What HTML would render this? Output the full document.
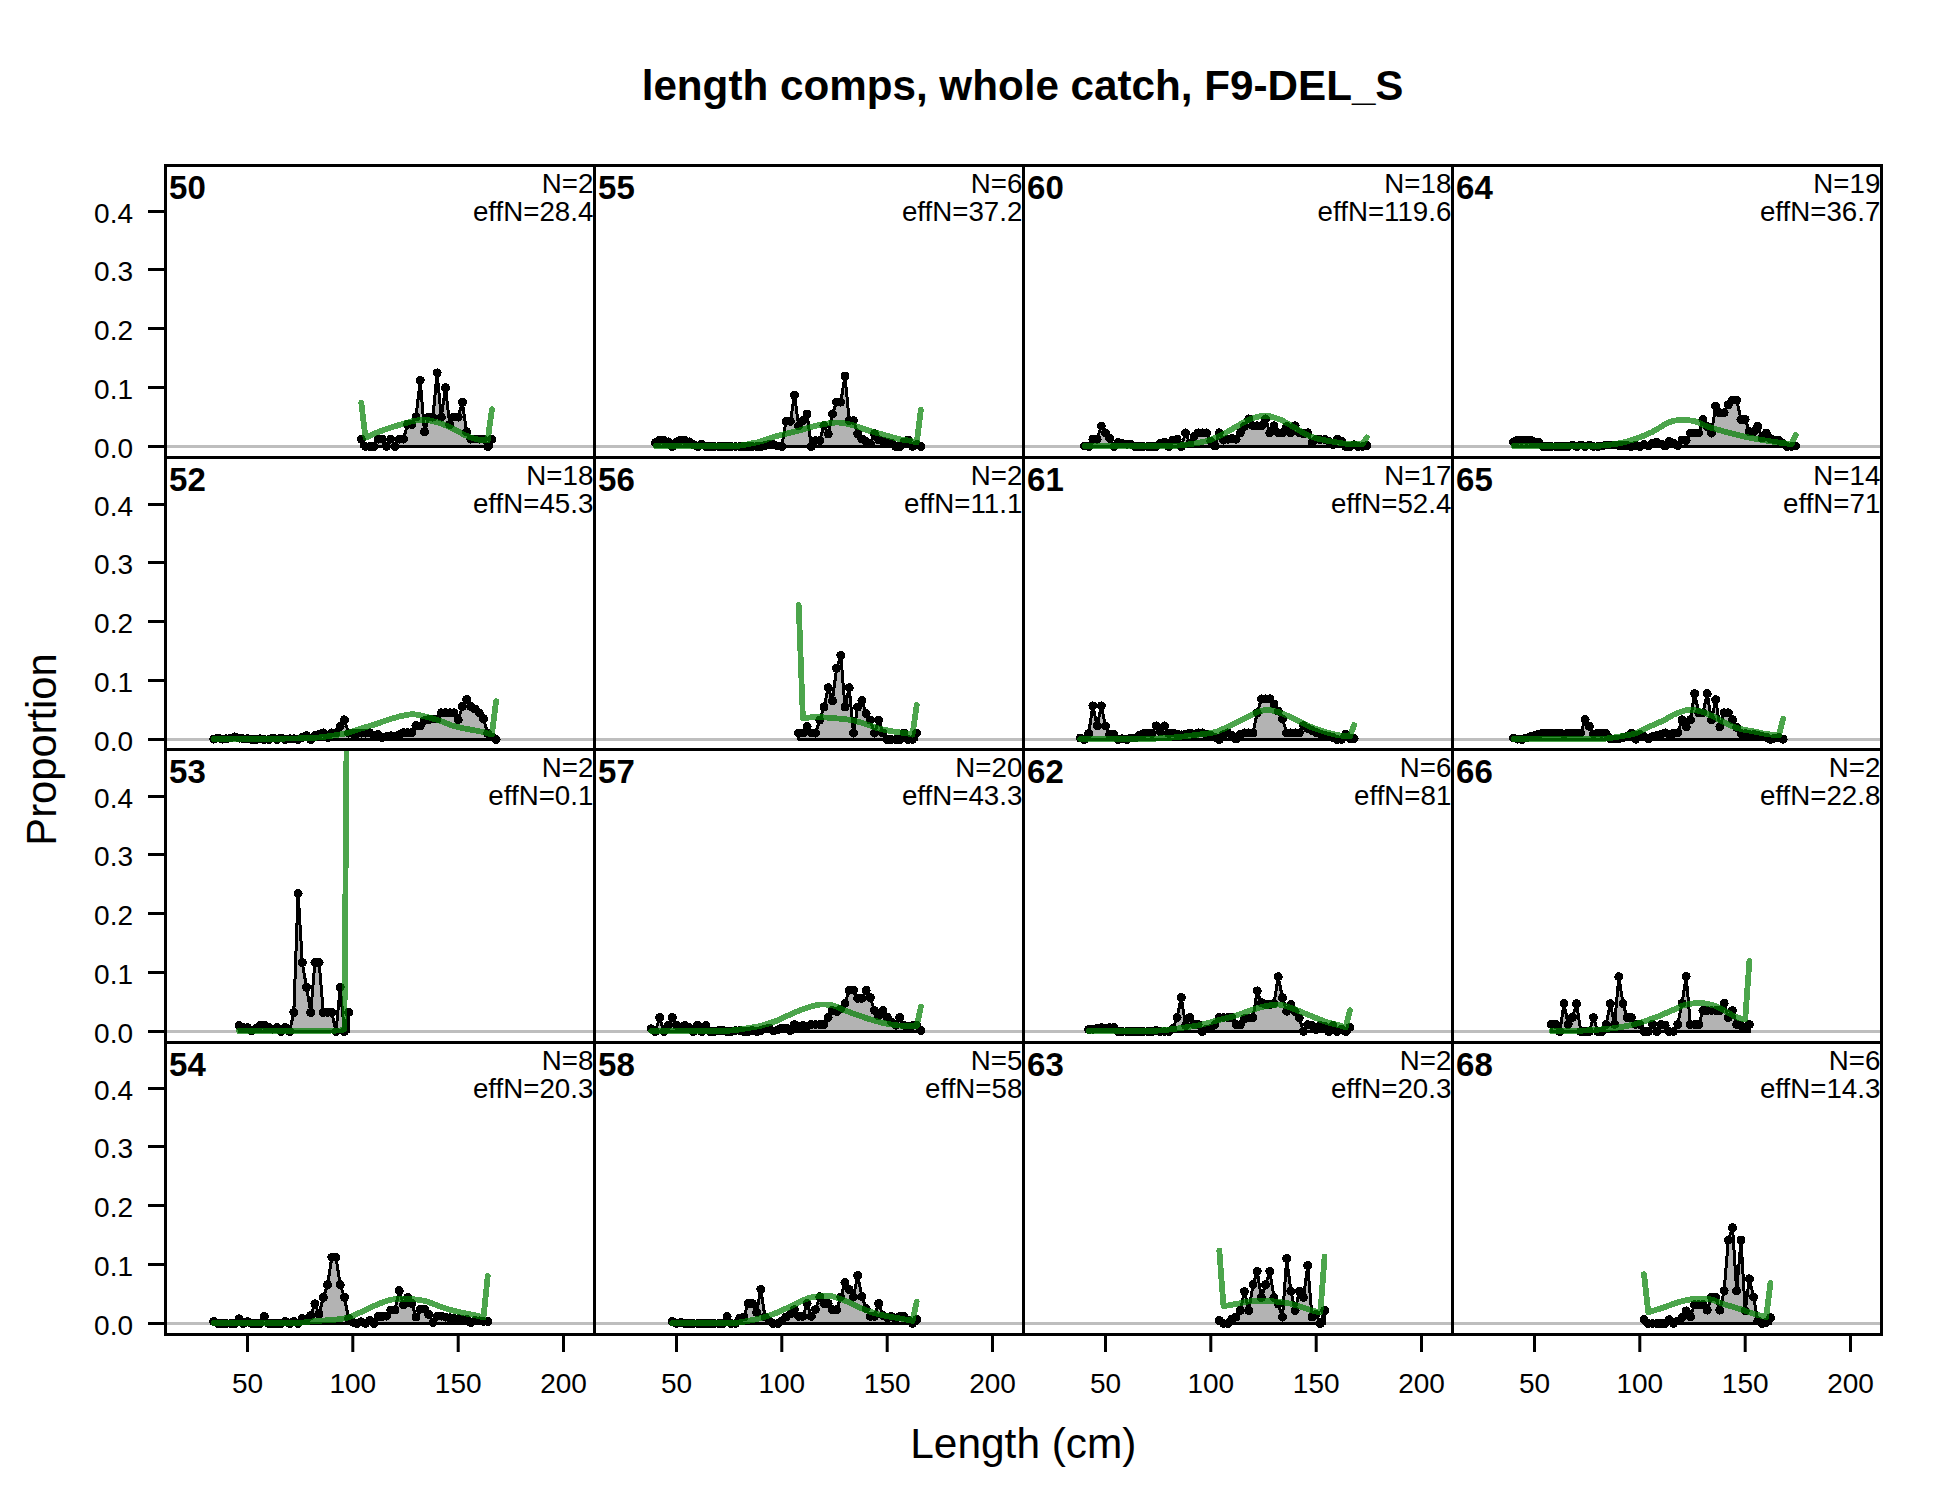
<!DOCTYPE html>
<html><head><meta charset="utf-8"><title>length comps, whole catch, F9-DEL_S</title>
<style>
html,body{margin:0;padding:0;background:#fff;}
svg{display:block;font-family:"Liberation Sans",sans-serif;}
.tk{font-size:28px;fill:#000;}
.pl{font-size:33px;font-weight:bold;fill:#000;}
.nl{font-size:27.7px;fill:#000;}
.big{font-size:41.7px;fill:#000;}
</style></head><body>
<svg width="1950" height="1500" viewBox="0 0 1950 1500">
<rect width="1950" height="1500" fill="#fff"/>
<text class="big" x="1022.6" y="99.7" text-anchor="middle" font-weight="bold" style="font-size:42.2px">length comps, whole catch, F9-DEL_S</text>
<text class="big" x="1023.4" y="1457.7" text-anchor="middle" style="font-size:42.4px">Length (cm)</text>
<text class="big" transform="translate(56,749.5) rotate(-90)" text-anchor="middle">Proportion</text>
<svg x="165.5" y="165.5" width="429.0" height="292.0" viewBox="165.5 165.5 429.0 292.0">
<line x1="165.5" y1="446.5" x2="594.5" y2="446.5" stroke="#bebebe" stroke-width="3.0"/>
<polygon shape-rendering="crispEdges" points="361.3,446.5 361.3,439.1 365.5,446.5 369.7,446.5 373.9,446.5 378.1,439.1 382.3,439.1 386.5,446.5 390.8,439.1 395.0,446.5 399.2,439.1 403.4,439.1 407.6,424.4 411.8,424.4 416.0,417.1 420.2,380.3 424.5,431.8 428.7,417.1 432.9,417.1 437.1,372.9 441.3,417.1 445.5,387.6 449.7,424.4 454.0,417.1 458.2,417.1 462.4,402.3 466.6,431.8 470.8,439.1 475.0,439.1 479.2,439.1 483.5,439.1 487.7,446.5 491.9,439.1 491.9,446.5" fill="#b3b3b3" stroke="#000" stroke-width="3.0" stroke-linejoin="round"/>
<g fill="#000" shape-rendering="crispEdges"><circle cx="361.3" cy="439.1" r="4.5"/><circle cx="365.5" cy="446.5" r="4.5"/><circle cx="369.7" cy="446.5" r="4.5"/><circle cx="373.9" cy="446.5" r="4.5"/><circle cx="378.1" cy="439.1" r="4.5"/><circle cx="382.3" cy="439.1" r="4.5"/><circle cx="386.5" cy="446.5" r="4.5"/><circle cx="390.8" cy="439.1" r="4.5"/><circle cx="395.0" cy="446.5" r="4.5"/><circle cx="399.2" cy="439.1" r="4.5"/><circle cx="403.4" cy="439.1" r="4.5"/><circle cx="407.6" cy="424.4" r="4.5"/><circle cx="411.8" cy="424.4" r="4.5"/><circle cx="416.0" cy="417.1" r="4.5"/><circle cx="420.2" cy="380.3" r="4.5"/><circle cx="424.5" cy="431.8" r="4.5"/><circle cx="428.7" cy="417.1" r="4.5"/><circle cx="432.9" cy="417.1" r="4.5"/><circle cx="437.1" cy="372.9" r="4.5"/><circle cx="441.3" cy="417.1" r="4.5"/><circle cx="445.5" cy="387.6" r="4.5"/><circle cx="449.7" cy="424.4" r="4.5"/><circle cx="454.0" cy="417.1" r="4.5"/><circle cx="458.2" cy="417.1" r="4.5"/><circle cx="462.4" cy="402.3" r="4.5"/><circle cx="466.6" cy="431.8" r="4.5"/><circle cx="470.8" cy="439.1" r="4.5"/><circle cx="475.0" cy="439.1" r="4.5"/><circle cx="479.2" cy="439.1" r="4.5"/><circle cx="483.5" cy="439.1" r="4.5"/><circle cx="487.7" cy="446.5" r="4.5"/><circle cx="491.9" cy="439.1" r="4.5"/></g>
<polyline shape-rendering="crispEdges" points="361.3,402.8 365.5,437.8 369.7,435.8 373.9,433.9 378.1,432.1 382.3,430.5 386.5,429.0 390.8,427.6 395.0,426.3 399.2,425.0 403.4,423.8 407.6,422.5 411.8,421.3 416.0,420.5 420.2,420.0 424.5,419.8 428.7,420.2 432.9,421.1 437.1,422.2 441.3,423.5 445.5,425.3 449.7,427.2 454.0,429.2 458.2,431.4 462.4,433.8 466.6,435.8 470.8,437.5 475.0,438.9 479.2,439.8 483.5,440.3 487.7,440.5 491.9,409.3" fill="none" stroke="rgb(0,127,0)" stroke-opacity="0.7" stroke-width="5.8" stroke-linejoin="round" stroke-linecap="round"/>
</svg>
<text class="pl" x="169.1" y="198.8">50</text>
<text class="nl" x="593.3" y="192.6" text-anchor="end">N=2</text>
<text class="nl" x="593.3" y="220.8" text-anchor="end">effN=28.4</text>
<svg x="165.5" y="457.5" width="429.0" height="292.0" viewBox="165.5 457.5 429.0 292.0">
<line x1="165.5" y1="739.5" x2="594.5" y2="739.5" stroke="#bebebe" stroke-width="3.0"/>
<polygon shape-rendering="crispEdges" points="213.8,739.5 213.8,739.1 218.0,738.0 222.2,739.1 226.4,738.8 230.6,738.0 234.9,736.9 239.1,738.1 243.3,738.8 247.5,738.8 251.7,739.5 255.9,739.5 260.1,738.8 264.4,739.5 268.6,739.5 272.8,738.0 277.0,739.5 281.2,738.0 285.4,739.5 289.6,738.8 293.8,738.8 298.1,739.5 302.3,737.5 306.5,735.8 310.7,739.5 314.9,735.5 319.1,734.1 323.3,732.9 327.6,737.5 331.8,732.9 336.0,732.9 340.2,726.5 344.4,719.8 348.6,733.1 352.8,733.5 357.0,733.5 361.3,733.1 365.5,733.1 369.7,732.8 373.9,735.5 378.1,734.5 382.3,737.5 386.5,736.5 390.8,735.8 395.0,736.8 399.2,734.8 403.4,732.7 407.6,732.7 411.8,732.7 416.0,725.5 420.2,726.0 424.5,720.5 428.7,719.5 432.9,719.0 437.1,719.0 441.3,712.8 445.5,712.8 449.7,712.8 454.0,712.8 458.2,719.7 462.4,706.5 466.6,699.5 470.8,706.5 475.0,709.1 479.2,712.8 483.5,718.8 487.7,733.5 491.9,737.0 496.1,739.5 496.1,739.5" fill="#b3b3b3" stroke="#000" stroke-width="3.0" stroke-linejoin="round"/>
<g fill="#000" shape-rendering="crispEdges"><circle cx="213.8" cy="739.1" r="4.5"/><circle cx="218.0" cy="738.0" r="4.5"/><circle cx="222.2" cy="739.1" r="4.5"/><circle cx="226.4" cy="738.8" r="4.5"/><circle cx="230.6" cy="738.0" r="4.5"/><circle cx="234.9" cy="736.9" r="4.5"/><circle cx="239.1" cy="738.1" r="4.5"/><circle cx="243.3" cy="738.8" r="4.5"/><circle cx="247.5" cy="738.8" r="4.5"/><circle cx="251.7" cy="739.5" r="4.5"/><circle cx="255.9" cy="739.5" r="4.5"/><circle cx="260.1" cy="738.8" r="4.5"/><circle cx="264.4" cy="739.5" r="4.5"/><circle cx="268.6" cy="739.5" r="4.5"/><circle cx="272.8" cy="738.0" r="4.5"/><circle cx="277.0" cy="739.5" r="4.5"/><circle cx="281.2" cy="738.0" r="4.5"/><circle cx="285.4" cy="739.5" r="4.5"/><circle cx="289.6" cy="738.8" r="4.5"/><circle cx="293.8" cy="738.8" r="4.5"/><circle cx="298.1" cy="739.5" r="4.5"/><circle cx="302.3" cy="737.5" r="4.5"/><circle cx="306.5" cy="735.8" r="4.5"/><circle cx="310.7" cy="739.5" r="4.5"/><circle cx="314.9" cy="735.5" r="4.5"/><circle cx="319.1" cy="734.1" r="4.5"/><circle cx="323.3" cy="732.9" r="4.5"/><circle cx="327.6" cy="737.5" r="4.5"/><circle cx="331.8" cy="732.9" r="4.5"/><circle cx="336.0" cy="732.9" r="4.5"/><circle cx="340.2" cy="726.5" r="4.5"/><circle cx="344.4" cy="719.8" r="4.5"/><circle cx="348.6" cy="733.1" r="4.5"/><circle cx="352.8" cy="733.5" r="4.5"/><circle cx="357.0" cy="733.5" r="4.5"/><circle cx="361.3" cy="733.1" r="4.5"/><circle cx="365.5" cy="733.1" r="4.5"/><circle cx="369.7" cy="732.8" r="4.5"/><circle cx="373.9" cy="735.5" r="4.5"/><circle cx="378.1" cy="734.5" r="4.5"/><circle cx="382.3" cy="737.5" r="4.5"/><circle cx="386.5" cy="736.5" r="4.5"/><circle cx="390.8" cy="735.8" r="4.5"/><circle cx="395.0" cy="736.8" r="4.5"/><circle cx="399.2" cy="734.8" r="4.5"/><circle cx="403.4" cy="732.7" r="4.5"/><circle cx="407.6" cy="732.7" r="4.5"/><circle cx="411.8" cy="732.7" r="4.5"/><circle cx="416.0" cy="725.5" r="4.5"/><circle cx="420.2" cy="726.0" r="4.5"/><circle cx="424.5" cy="720.5" r="4.5"/><circle cx="428.7" cy="719.5" r="4.5"/><circle cx="432.9" cy="719.0" r="4.5"/><circle cx="437.1" cy="719.0" r="4.5"/><circle cx="441.3" cy="712.8" r="4.5"/><circle cx="445.5" cy="712.8" r="4.5"/><circle cx="449.7" cy="712.8" r="4.5"/><circle cx="454.0" cy="712.8" r="4.5"/><circle cx="458.2" cy="719.7" r="4.5"/><circle cx="462.4" cy="706.5" r="4.5"/><circle cx="466.6" cy="699.5" r="4.5"/><circle cx="470.8" cy="706.5" r="4.5"/><circle cx="475.0" cy="709.1" r="4.5"/><circle cx="479.2" cy="712.8" r="4.5"/><circle cx="483.5" cy="718.8" r="4.5"/><circle cx="487.7" cy="733.5" r="4.5"/><circle cx="491.9" cy="737.0" r="4.5"/><circle cx="496.1" cy="739.5" r="4.5"/></g>
<polyline shape-rendering="crispEdges" points="213.8,739.0 218.0,739.0 222.2,739.0 226.4,739.0 230.6,739.0 234.9,739.0 239.1,739.0 243.3,738.9 247.5,738.9 251.7,738.9 255.9,738.9 260.1,738.9 264.4,738.8 268.6,738.8 272.8,738.8 277.0,738.7 281.2,738.7 285.4,738.6 289.6,738.5 293.8,738.5 298.1,738.4 302.3,738.3 306.5,738.1 310.7,738.0 314.9,737.8 319.1,737.4 323.3,737.0 327.6,736.4 331.8,735.8 336.0,735.1 340.2,734.4 344.4,733.6 348.6,732.6 352.8,731.3 357.0,729.9 361.3,728.5 365.5,727.2 369.7,726.0 373.9,724.7 378.1,723.3 382.3,721.8 386.5,720.3 390.8,718.9 395.0,717.7 399.2,716.5 403.4,715.6 407.6,714.7 411.8,714.2 416.0,714.5 420.2,715.4 424.5,716.4 428.7,717.4 432.9,718.6 437.1,719.9 441.3,721.3 445.5,722.9 449.7,724.6 454.0,726.1 458.2,727.1 462.4,728.1 466.6,728.9 470.8,729.7 475.0,730.4 479.2,731.2 483.5,732.1 487.7,733.3 491.9,734.5 496.1,701.0" fill="none" stroke="rgb(0,127,0)" stroke-opacity="0.7" stroke-width="5.8" stroke-linejoin="round" stroke-linecap="round"/>
</svg>
<text class="pl" x="169.1" y="490.8">52</text>
<text class="nl" x="593.3" y="484.6" text-anchor="end">N=18</text>
<text class="nl" x="593.3" y="512.8" text-anchor="end">effN=45.3</text>
<svg x="165.5" y="749.5" width="429.0" height="293.0" viewBox="165.5 749.5 429.0 293.0">
<line x1="165.5" y1="1031.5" x2="594.5" y2="1031.5" stroke="#bebebe" stroke-width="3.0"/>
<polygon shape-rendering="crispEdges" points="239.1,1031.5 239.1,1025.4 243.3,1027.5 247.5,1027.8 251.7,1031.0 255.9,1028.5 260.1,1025.4 264.4,1025.4 268.6,1027.1 272.8,1029.1 277.0,1027.5 281.2,1031.5 285.4,1027.5 289.6,1031.5 293.8,1012.4 298.1,893.5 302.3,962.4 306.5,987.4 310.7,1012.4 314.9,962.4 319.1,962.4 323.3,1012.4 327.6,1012.4 331.8,1012.4 336.0,1031.5 340.2,987.4 344.4,1031.5 348.6,1012.4 348.6,1031.5" fill="#b3b3b3" stroke="#000" stroke-width="3.0" stroke-linejoin="round"/>
<g fill="#000" shape-rendering="crispEdges"><circle cx="239.1" cy="1025.4" r="4.5"/><circle cx="243.3" cy="1027.5" r="4.5"/><circle cx="247.5" cy="1027.8" r="4.5"/><circle cx="251.7" cy="1031.0" r="4.5"/><circle cx="255.9" cy="1028.5" r="4.5"/><circle cx="260.1" cy="1025.4" r="4.5"/><circle cx="264.4" cy="1025.4" r="4.5"/><circle cx="268.6" cy="1027.1" r="4.5"/><circle cx="272.8" cy="1029.1" r="4.5"/><circle cx="277.0" cy="1027.5" r="4.5"/><circle cx="281.2" cy="1031.5" r="4.5"/><circle cx="285.4" cy="1027.5" r="4.5"/><circle cx="289.6" cy="1031.5" r="4.5"/><circle cx="293.8" cy="1012.4" r="4.5"/><circle cx="298.1" cy="893.5" r="4.5"/><circle cx="302.3" cy="962.4" r="4.5"/><circle cx="306.5" cy="987.4" r="4.5"/><circle cx="310.7" cy="1012.4" r="4.5"/><circle cx="314.9" cy="962.4" r="4.5"/><circle cx="319.1" cy="962.4" r="4.5"/><circle cx="323.3" cy="1012.4" r="4.5"/><circle cx="327.6" cy="1012.4" r="4.5"/><circle cx="331.8" cy="1012.4" r="4.5"/><circle cx="336.0" cy="1031.5" r="4.5"/><circle cx="340.2" cy="987.4" r="4.5"/><circle cx="344.4" cy="1031.5" r="4.5"/><circle cx="348.6" cy="1012.4" r="4.5"/></g>
<polyline shape-rendering="crispEdges" points="239.1,1031.0 243.3,1031.0 247.5,1031.0 251.7,1031.0 255.9,1031.0 260.1,1031.0 264.4,1031.0 268.6,1031.0 272.8,1031.0 277.0,1031.0 281.2,1031.0 285.4,1030.9 289.6,1030.9 293.8,1030.9 298.1,1030.9 302.3,1030.9 306.5,1030.8 310.7,1030.8 314.9,1030.8 319.1,1030.7 323.3,1030.7 327.6,1030.7 331.8,1030.6 336.0,1030.6 340.2,1030.5 344.4,1029.5 348.6,471.5" fill="none" stroke="rgb(0,127,0)" stroke-opacity="0.7" stroke-width="5.8" stroke-linejoin="round" stroke-linecap="round"/>
</svg>
<text class="pl" x="169.1" y="782.8">53</text>
<text class="nl" x="593.3" y="776.6" text-anchor="end">N=2</text>
<text class="nl" x="593.3" y="804.8" text-anchor="end">effN=0.1</text>
<svg x="165.5" y="1042.5" width="429.0" height="292.0" viewBox="165.5 1042.5 429.0 292.0">
<line x1="165.5" y1="1323.5" x2="594.5" y2="1323.5" stroke="#bebebe" stroke-width="3.0"/>
<polygon shape-rendering="crispEdges" points="213.8,1323.5 213.8,1321.5 218.0,1323.5 222.2,1323.5 226.4,1323.5 230.6,1323.5 234.9,1323.5 239.1,1318.8 243.3,1323.5 247.5,1321.5 251.7,1323.5 255.9,1323.5 260.1,1323.5 264.4,1316.5 268.6,1323.5 272.8,1323.5 277.0,1323.5 281.2,1323.5 285.4,1321.5 289.6,1323.5 293.8,1321.5 298.1,1323.5 302.3,1318.5 306.5,1319.5 310.7,1315.5 314.9,1303.8 319.1,1314.0 323.3,1297.5 327.6,1284.7 331.8,1257.3 336.0,1257.3 340.2,1284.7 344.4,1297.3 348.6,1318.5 352.8,1322.2 357.0,1323.5 361.3,1321.8 365.5,1323.5 369.7,1320.5 373.9,1323.5 378.1,1316.5 382.3,1316.5 386.5,1316.1 390.8,1310.0 395.0,1310.0 399.2,1290.6 403.4,1304.8 407.6,1297.5 411.8,1303.5 416.0,1317.0 420.2,1309.1 424.5,1309.1 428.7,1314.5 432.9,1322.5 437.1,1316.1 441.3,1316.1 445.5,1317.0 449.7,1317.8 454.0,1318.7 458.2,1318.7 462.4,1319.5 466.6,1319.5 470.8,1322.5 475.0,1320.5 479.2,1320.9 483.5,1321.5 487.7,1321.5 487.7,1323.5" fill="#b3b3b3" stroke="#000" stroke-width="3.0" stroke-linejoin="round"/>
<g fill="#000" shape-rendering="crispEdges"><circle cx="213.8" cy="1321.5" r="4.5"/><circle cx="218.0" cy="1323.5" r="4.5"/><circle cx="222.2" cy="1323.5" r="4.5"/><circle cx="226.4" cy="1323.5" r="4.5"/><circle cx="230.6" cy="1323.5" r="4.5"/><circle cx="234.9" cy="1323.5" r="4.5"/><circle cx="239.1" cy="1318.8" r="4.5"/><circle cx="243.3" cy="1323.5" r="4.5"/><circle cx="247.5" cy="1321.5" r="4.5"/><circle cx="251.7" cy="1323.5" r="4.5"/><circle cx="255.9" cy="1323.5" r="4.5"/><circle cx="260.1" cy="1323.5" r="4.5"/><circle cx="264.4" cy="1316.5" r="4.5"/><circle cx="268.6" cy="1323.5" r="4.5"/><circle cx="272.8" cy="1323.5" r="4.5"/><circle cx="277.0" cy="1323.5" r="4.5"/><circle cx="281.2" cy="1323.5" r="4.5"/><circle cx="285.4" cy="1321.5" r="4.5"/><circle cx="289.6" cy="1323.5" r="4.5"/><circle cx="293.8" cy="1321.5" r="4.5"/><circle cx="298.1" cy="1323.5" r="4.5"/><circle cx="302.3" cy="1318.5" r="4.5"/><circle cx="306.5" cy="1319.5" r="4.5"/><circle cx="310.7" cy="1315.5" r="4.5"/><circle cx="314.9" cy="1303.8" r="4.5"/><circle cx="319.1" cy="1314.0" r="4.5"/><circle cx="323.3" cy="1297.5" r="4.5"/><circle cx="327.6" cy="1284.7" r="4.5"/><circle cx="331.8" cy="1257.3" r="4.5"/><circle cx="336.0" cy="1257.3" r="4.5"/><circle cx="340.2" cy="1284.7" r="4.5"/><circle cx="344.4" cy="1297.3" r="4.5"/><circle cx="348.6" cy="1318.5" r="4.5"/><circle cx="352.8" cy="1322.2" r="4.5"/><circle cx="357.0" cy="1323.5" r="4.5"/><circle cx="361.3" cy="1321.8" r="4.5"/><circle cx="365.5" cy="1323.5" r="4.5"/><circle cx="369.7" cy="1320.5" r="4.5"/><circle cx="373.9" cy="1323.5" r="4.5"/><circle cx="378.1" cy="1316.5" r="4.5"/><circle cx="382.3" cy="1316.5" r="4.5"/><circle cx="386.5" cy="1316.1" r="4.5"/><circle cx="390.8" cy="1310.0" r="4.5"/><circle cx="395.0" cy="1310.0" r="4.5"/><circle cx="399.2" cy="1290.6" r="4.5"/><circle cx="403.4" cy="1304.8" r="4.5"/><circle cx="407.6" cy="1297.5" r="4.5"/><circle cx="411.8" cy="1303.5" r="4.5"/><circle cx="416.0" cy="1317.0" r="4.5"/><circle cx="420.2" cy="1309.1" r="4.5"/><circle cx="424.5" cy="1309.1" r="4.5"/><circle cx="428.7" cy="1314.5" r="4.5"/><circle cx="432.9" cy="1322.5" r="4.5"/><circle cx="437.1" cy="1316.1" r="4.5"/><circle cx="441.3" cy="1316.1" r="4.5"/><circle cx="445.5" cy="1317.0" r="4.5"/><circle cx="449.7" cy="1317.8" r="4.5"/><circle cx="454.0" cy="1318.7" r="4.5"/><circle cx="458.2" cy="1318.7" r="4.5"/><circle cx="462.4" cy="1319.5" r="4.5"/><circle cx="466.6" cy="1319.5" r="4.5"/><circle cx="470.8" cy="1322.5" r="4.5"/><circle cx="475.0" cy="1320.5" r="4.5"/><circle cx="479.2" cy="1320.9" r="4.5"/><circle cx="483.5" cy="1321.5" r="4.5"/><circle cx="487.7" cy="1321.5" r="4.5"/></g>
<polyline shape-rendering="crispEdges" points="213.8,1323.2 218.0,1323.2 222.2,1323.2 226.4,1323.2 230.6,1323.2 234.9,1323.2 239.1,1323.2 243.3,1323.2 247.5,1323.2 251.7,1323.2 255.9,1323.2 260.1,1323.2 264.4,1323.2 268.6,1323.2 272.8,1323.2 277.0,1323.2 281.2,1323.2 285.4,1323.2 289.6,1323.2 293.8,1323.2 298.1,1323.0 302.3,1322.6 306.5,1322.1 310.7,1321.5 314.9,1321.1 319.1,1320.8 323.3,1320.5 327.6,1320.3 331.8,1320.0 336.0,1319.6 340.2,1319.1 344.4,1318.4 348.6,1317.4 352.8,1315.8 357.0,1313.9 361.3,1311.9 365.5,1310.0 369.7,1308.0 373.9,1306.0 378.1,1304.2 382.3,1302.5 386.5,1300.9 390.8,1299.7 395.0,1299.2 399.2,1298.9 403.4,1298.7 407.6,1298.7 411.8,1299.0 416.0,1299.5 420.2,1300.1 424.5,1300.8 428.7,1302.1 432.9,1303.7 437.1,1305.4 441.3,1306.9 445.5,1308.3 449.7,1309.6 454.0,1310.8 458.2,1311.9 462.4,1312.8 466.6,1313.6 470.8,1314.4 475.0,1315.2 479.2,1316.3 483.5,1317.4 487.7,1276.0" fill="none" stroke="rgb(0,127,0)" stroke-opacity="0.7" stroke-width="5.8" stroke-linejoin="round" stroke-linecap="round"/>
</svg>
<text class="pl" x="169.1" y="1075.8">54</text>
<text class="nl" x="593.3" y="1069.6" text-anchor="end">N=8</text>
<text class="nl" x="593.3" y="1097.8" text-anchor="end">effN=20.3</text>
<svg x="594.5" y="165.5" width="429.0" height="292.0" viewBox="594.5 165.5 429.0 292.0">
<line x1="594.5" y1="446.5" x2="1023.5" y2="446.5" stroke="#bebebe" stroke-width="3.0"/>
<polygon shape-rendering="crispEdges" points="655.4,446.5 655.4,442.7 659.6,440.3 663.9,440.3 668.1,441.9 672.3,446.5 676.5,441.9 680.7,440.3 684.9,440.3 689.1,441.9 693.4,444.5 697.6,446.5 701.8,444.2 706.0,446.5 710.2,446.5 714.4,446.5 718.6,446.5 722.8,446.5 727.1,446.5 731.3,446.5 735.5,446.5 739.7,446.5 743.9,446.5 748.1,446.5 752.3,446.5 756.6,446.5 760.8,446.5 765.0,445.5 769.2,444.5 773.4,444.5 777.6,446.0 781.8,446.5 786.0,421.3 790.3,421.3 794.5,395.2 798.7,426.0 802.9,420.5 807.1,414.0 811.3,446.5 815.5,440.5 819.8,440.5 824.0,425.5 828.2,434.0 832.4,414.0 836.6,402.1 840.8,402.1 845.0,376.1 849.2,420.5 853.5,420.5 857.7,433.7 861.9,439.0 866.1,441.5 870.3,443.7 874.5,433.7 878.7,439.8 883.0,441.0 887.2,442.1 891.4,443.3 895.6,446.5 899.8,446.5 904.0,442.1 908.2,440.0 912.5,446.5 916.7,444.5 920.9,446.5 920.9,446.5" fill="#b3b3b3" stroke="#000" stroke-width="3.0" stroke-linejoin="round"/>
<g fill="#000" shape-rendering="crispEdges"><circle cx="655.4" cy="442.7" r="4.5"/><circle cx="659.6" cy="440.3" r="4.5"/><circle cx="663.9" cy="440.3" r="4.5"/><circle cx="668.1" cy="441.9" r="4.5"/><circle cx="672.3" cy="446.5" r="4.5"/><circle cx="676.5" cy="441.9" r="4.5"/><circle cx="680.7" cy="440.3" r="4.5"/><circle cx="684.9" cy="440.3" r="4.5"/><circle cx="689.1" cy="441.9" r="4.5"/><circle cx="693.4" cy="444.5" r="4.5"/><circle cx="697.6" cy="446.5" r="4.5"/><circle cx="701.8" cy="444.2" r="4.5"/><circle cx="706.0" cy="446.5" r="4.5"/><circle cx="710.2" cy="446.5" r="4.5"/><circle cx="714.4" cy="446.5" r="4.5"/><circle cx="718.6" cy="446.5" r="4.5"/><circle cx="722.8" cy="446.5" r="4.5"/><circle cx="727.1" cy="446.5" r="4.5"/><circle cx="731.3" cy="446.5" r="4.5"/><circle cx="735.5" cy="446.5" r="4.5"/><circle cx="739.7" cy="446.5" r="4.5"/><circle cx="743.9" cy="446.5" r="4.5"/><circle cx="748.1" cy="446.5" r="4.5"/><circle cx="752.3" cy="446.5" r="4.5"/><circle cx="756.6" cy="446.5" r="4.5"/><circle cx="760.8" cy="446.5" r="4.5"/><circle cx="765.0" cy="445.5" r="4.5"/><circle cx="769.2" cy="444.5" r="4.5"/><circle cx="773.4" cy="444.5" r="4.5"/><circle cx="777.6" cy="446.0" r="4.5"/><circle cx="781.8" cy="446.5" r="4.5"/><circle cx="786.0" cy="421.3" r="4.5"/><circle cx="790.3" cy="421.3" r="4.5"/><circle cx="794.5" cy="395.2" r="4.5"/><circle cx="798.7" cy="426.0" r="4.5"/><circle cx="802.9" cy="420.5" r="4.5"/><circle cx="807.1" cy="414.0" r="4.5"/><circle cx="811.3" cy="446.5" r="4.5"/><circle cx="815.5" cy="440.5" r="4.5"/><circle cx="819.8" cy="440.5" r="4.5"/><circle cx="824.0" cy="425.5" r="4.5"/><circle cx="828.2" cy="434.0" r="4.5"/><circle cx="832.4" cy="414.0" r="4.5"/><circle cx="836.6" cy="402.1" r="4.5"/><circle cx="840.8" cy="402.1" r="4.5"/><circle cx="845.0" cy="376.1" r="4.5"/><circle cx="849.2" cy="420.5" r="4.5"/><circle cx="853.5" cy="420.5" r="4.5"/><circle cx="857.7" cy="433.7" r="4.5"/><circle cx="861.9" cy="439.0" r="4.5"/><circle cx="866.1" cy="441.5" r="4.5"/><circle cx="870.3" cy="443.7" r="4.5"/><circle cx="874.5" cy="433.7" r="4.5"/><circle cx="878.7" cy="439.8" r="4.5"/><circle cx="883.0" cy="441.0" r="4.5"/><circle cx="887.2" cy="442.1" r="4.5"/><circle cx="891.4" cy="443.3" r="4.5"/><circle cx="895.6" cy="446.5" r="4.5"/><circle cx="899.8" cy="446.5" r="4.5"/><circle cx="904.0" cy="442.1" r="4.5"/><circle cx="908.2" cy="440.0" r="4.5"/><circle cx="912.5" cy="446.5" r="4.5"/><circle cx="916.7" cy="444.5" r="4.5"/><circle cx="920.9" cy="446.5" r="4.5"/></g>
<polyline shape-rendering="crispEdges" points="655.4,446.0 659.6,446.0 663.9,446.0 668.1,446.0 672.3,446.0 676.5,446.0 680.7,446.0 684.9,446.0 689.1,446.0 693.4,446.0 697.6,446.0 701.8,446.0 706.0,446.0 710.2,446.0 714.4,446.0 718.6,446.0 722.8,446.0 727.1,446.0 731.3,446.0 735.5,445.9 739.7,445.6 743.9,445.0 748.1,444.2 752.3,443.3 756.6,442.5 760.8,441.4 765.0,440.0 769.2,438.5 773.4,437.1 777.6,435.8 781.8,434.7 786.0,433.7 790.3,432.6 794.5,431.6 798.7,430.6 802.9,429.4 807.1,428.2 811.3,427.0 815.5,425.9 819.8,424.9 824.0,424.2 828.2,423.4 832.4,422.8 836.6,422.5 840.8,422.7 845.0,423.4 849.2,424.3 853.5,425.4 857.7,426.7 861.9,428.2 866.1,429.8 870.3,431.1 874.5,432.3 878.7,433.5 883.0,434.6 887.2,435.8 891.4,437.1 895.6,438.2 899.8,439.2 904.0,439.9 908.2,440.5 912.5,441.3 916.7,442.5 920.9,409.8" fill="none" stroke="rgb(0,127,0)" stroke-opacity="0.7" stroke-width="5.8" stroke-linejoin="round" stroke-linecap="round"/>
</svg>
<text class="pl" x="598.1" y="198.8">55</text>
<text class="nl" x="1022.3" y="192.6" text-anchor="end">N=6</text>
<text class="nl" x="1022.3" y="220.8" text-anchor="end">effN=37.2</text>
<svg x="594.5" y="457.5" width="429.0" height="292.0" viewBox="594.5 457.5 429.0 292.0">
<line x1="594.5" y1="739.5" x2="1023.5" y2="739.5" stroke="#bebebe" stroke-width="3.0"/>
<polygon shape-rendering="crispEdges" points="798.7,739.5 798.7,733.0 802.9,733.0 807.1,726.6 811.3,733.0 815.5,733.0 819.8,720.1 824.0,707.1 828.2,687.7 832.4,700.7 836.6,668.3 840.8,655.4 845.0,707.1 849.2,687.7 853.5,733.0 857.7,707.1 861.9,700.7 866.1,713.6 870.3,720.1 874.5,733.0 878.7,720.1 883.0,733.0 887.2,739.5 891.4,739.5 895.6,739.5 899.8,739.5 904.0,733.0 908.2,739.5 912.5,739.5 916.7,733.0 916.7,739.5" fill="#b3b3b3" stroke="#000" stroke-width="3.0" stroke-linejoin="round"/>
<g fill="#000" shape-rendering="crispEdges"><circle cx="798.7" cy="733.0" r="4.5"/><circle cx="802.9" cy="733.0" r="4.5"/><circle cx="807.1" cy="726.6" r="4.5"/><circle cx="811.3" cy="733.0" r="4.5"/><circle cx="815.5" cy="733.0" r="4.5"/><circle cx="819.8" cy="720.1" r="4.5"/><circle cx="824.0" cy="707.1" r="4.5"/><circle cx="828.2" cy="687.7" r="4.5"/><circle cx="832.4" cy="700.7" r="4.5"/><circle cx="836.6" cy="668.3" r="4.5"/><circle cx="840.8" cy="655.4" r="4.5"/><circle cx="845.0" cy="707.1" r="4.5"/><circle cx="849.2" cy="687.7" r="4.5"/><circle cx="853.5" cy="733.0" r="4.5"/><circle cx="857.7" cy="707.1" r="4.5"/><circle cx="861.9" cy="700.7" r="4.5"/><circle cx="866.1" cy="713.6" r="4.5"/><circle cx="870.3" cy="720.1" r="4.5"/><circle cx="874.5" cy="733.0" r="4.5"/><circle cx="878.7" cy="720.1" r="4.5"/><circle cx="883.0" cy="733.0" r="4.5"/><circle cx="887.2" cy="739.5" r="4.5"/><circle cx="891.4" cy="739.5" r="4.5"/><circle cx="895.6" cy="739.5" r="4.5"/><circle cx="899.8" cy="739.5" r="4.5"/><circle cx="904.0" cy="733.0" r="4.5"/><circle cx="908.2" cy="739.5" r="4.5"/><circle cx="912.5" cy="739.5" r="4.5"/><circle cx="916.7" cy="733.0" r="4.5"/></g>
<polyline shape-rendering="crispEdges" points="798.7,605.2 802.9,718.6 807.1,717.9 811.3,717.3 815.5,717.1 819.8,717.2 824.0,717.4 828.2,717.7 832.4,718.0 836.6,718.4 840.8,718.7 845.0,719.2 849.2,719.7 853.5,720.5 857.7,721.6 861.9,722.8 866.1,724.1 870.3,725.6 874.5,727.2 878.7,728.5 883.0,729.5 887.2,730.4 891.4,731.1 895.6,731.8 899.8,732.4 904.0,732.9 908.2,733.6 912.5,734.7 916.7,705.0" fill="none" stroke="rgb(0,127,0)" stroke-opacity="0.7" stroke-width="5.8" stroke-linejoin="round" stroke-linecap="round"/>
</svg>
<text class="pl" x="598.1" y="490.8">56</text>
<text class="nl" x="1022.3" y="484.6" text-anchor="end">N=2</text>
<text class="nl" x="1022.3" y="512.8" text-anchor="end">effN=11.1</text>
<svg x="594.5" y="749.5" width="429.0" height="293.0" viewBox="594.5 749.5 429.0 293.0">
<line x1="594.5" y1="1031.5" x2="1023.5" y2="1031.5" stroke="#bebebe" stroke-width="3.0"/>
<polygon shape-rendering="crispEdges" points="651.2,1031.5 651.2,1028.8 655.4,1031.5 659.6,1017.5 663.9,1031.5 668.1,1025.3 672.3,1017.5 676.5,1025.3 680.7,1027.5 684.9,1025.3 689.1,1027.5 693.4,1031.5 697.6,1025.3 701.8,1031.5 706.0,1025.3 710.2,1031.5 714.4,1031.5 718.6,1030.5 722.8,1030.5 727.1,1031.5 731.3,1031.5 735.5,1030.5 739.7,1030.5 743.9,1031.5 748.1,1031.5 752.3,1030.5 756.6,1031.5 760.8,1030.5 765.0,1029.0 769.2,1028.0 773.4,1031.0 777.6,1029.8 781.8,1028.0 786.0,1028.0 790.3,1030.5 794.5,1024.5 798.7,1026.5 802.9,1025.7 807.1,1026.5 811.3,1024.5 815.5,1024.5 819.8,1024.5 824.0,1024.5 828.2,1017.5 832.4,1010.5 836.6,1011.5 840.8,1009.0 845.0,1003.3 849.2,990.2 853.5,990.2 857.7,998.3 861.9,998.3 866.1,990.2 870.3,997.5 874.5,1010.5 878.7,1016.0 883.0,1010.5 887.2,1017.1 891.4,1022.1 895.6,1025.2 899.8,1017.5 904.0,1025.2 908.2,1026.0 912.5,1025.5 916.7,1025.2 920.9,1030.5 920.9,1031.5" fill="#b3b3b3" stroke="#000" stroke-width="3.0" stroke-linejoin="round"/>
<g fill="#000" shape-rendering="crispEdges"><circle cx="651.2" cy="1028.8" r="4.5"/><circle cx="655.4" cy="1031.5" r="4.5"/><circle cx="659.6" cy="1017.5" r="4.5"/><circle cx="663.9" cy="1031.5" r="4.5"/><circle cx="668.1" cy="1025.3" r="4.5"/><circle cx="672.3" cy="1017.5" r="4.5"/><circle cx="676.5" cy="1025.3" r="4.5"/><circle cx="680.7" cy="1027.5" r="4.5"/><circle cx="684.9" cy="1025.3" r="4.5"/><circle cx="689.1" cy="1027.5" r="4.5"/><circle cx="693.4" cy="1031.5" r="4.5"/><circle cx="697.6" cy="1025.3" r="4.5"/><circle cx="701.8" cy="1031.5" r="4.5"/><circle cx="706.0" cy="1025.3" r="4.5"/><circle cx="710.2" cy="1031.5" r="4.5"/><circle cx="714.4" cy="1031.5" r="4.5"/><circle cx="718.6" cy="1030.5" r="4.5"/><circle cx="722.8" cy="1030.5" r="4.5"/><circle cx="727.1" cy="1031.5" r="4.5"/><circle cx="731.3" cy="1031.5" r="4.5"/><circle cx="735.5" cy="1030.5" r="4.5"/><circle cx="739.7" cy="1030.5" r="4.5"/><circle cx="743.9" cy="1031.5" r="4.5"/><circle cx="748.1" cy="1031.5" r="4.5"/><circle cx="752.3" cy="1030.5" r="4.5"/><circle cx="756.6" cy="1031.5" r="4.5"/><circle cx="760.8" cy="1030.5" r="4.5"/><circle cx="765.0" cy="1029.0" r="4.5"/><circle cx="769.2" cy="1028.0" r="4.5"/><circle cx="773.4" cy="1031.0" r="4.5"/><circle cx="777.6" cy="1029.8" r="4.5"/><circle cx="781.8" cy="1028.0" r="4.5"/><circle cx="786.0" cy="1028.0" r="4.5"/><circle cx="790.3" cy="1030.5" r="4.5"/><circle cx="794.5" cy="1024.5" r="4.5"/><circle cx="798.7" cy="1026.5" r="4.5"/><circle cx="802.9" cy="1025.7" r="4.5"/><circle cx="807.1" cy="1026.5" r="4.5"/><circle cx="811.3" cy="1024.5" r="4.5"/><circle cx="815.5" cy="1024.5" r="4.5"/><circle cx="819.8" cy="1024.5" r="4.5"/><circle cx="824.0" cy="1024.5" r="4.5"/><circle cx="828.2" cy="1017.5" r="4.5"/><circle cx="832.4" cy="1010.5" r="4.5"/><circle cx="836.6" cy="1011.5" r="4.5"/><circle cx="840.8" cy="1009.0" r="4.5"/><circle cx="845.0" cy="1003.3" r="4.5"/><circle cx="849.2" cy="990.2" r="4.5"/><circle cx="853.5" cy="990.2" r="4.5"/><circle cx="857.7" cy="998.3" r="4.5"/><circle cx="861.9" cy="998.3" r="4.5"/><circle cx="866.1" cy="990.2" r="4.5"/><circle cx="870.3" cy="997.5" r="4.5"/><circle cx="874.5" cy="1010.5" r="4.5"/><circle cx="878.7" cy="1016.0" r="4.5"/><circle cx="883.0" cy="1010.5" r="4.5"/><circle cx="887.2" cy="1017.1" r="4.5"/><circle cx="891.4" cy="1022.1" r="4.5"/><circle cx="895.6" cy="1025.2" r="4.5"/><circle cx="899.8" cy="1017.5" r="4.5"/><circle cx="904.0" cy="1025.2" r="4.5"/><circle cx="908.2" cy="1026.0" r="4.5"/><circle cx="912.5" cy="1025.5" r="4.5"/><circle cx="916.7" cy="1025.2" r="4.5"/><circle cx="920.9" cy="1030.5" r="4.5"/></g>
<polyline shape-rendering="crispEdges" points="651.2,1031.0 655.4,1031.0 659.6,1031.0 663.9,1031.0 668.1,1031.0 672.3,1031.0 676.5,1031.0 680.7,1031.0 684.9,1031.0 689.1,1031.0 693.4,1031.0 697.6,1031.0 701.8,1031.0 706.0,1031.0 710.2,1031.0 714.4,1031.0 718.6,1031.0 722.8,1031.0 727.1,1030.8 731.3,1030.5 735.5,1030.0 739.7,1029.5 743.9,1028.8 748.1,1028.1 752.3,1027.4 756.6,1026.7 760.8,1025.8 765.0,1024.6 769.2,1023.3 773.4,1021.9 777.6,1020.4 781.8,1018.5 786.0,1016.4 790.3,1014.5 794.5,1012.6 798.7,1010.8 802.9,1009.1 807.1,1007.8 811.3,1006.5 815.5,1005.4 819.8,1004.6 824.0,1004.5 828.2,1004.7 832.4,1005.3 836.6,1006.8 840.8,1008.7 845.0,1010.5 849.2,1012.0 853.5,1013.6 857.7,1015.1 861.9,1016.5 866.1,1018.0 870.3,1019.4 874.5,1020.7 878.7,1021.8 883.0,1022.9 887.2,1023.8 891.4,1024.5 895.6,1025.1 899.8,1025.6 904.0,1025.9 908.2,1026.0 912.5,1026.0 916.7,1026.0 920.9,1006.7" fill="none" stroke="rgb(0,127,0)" stroke-opacity="0.7" stroke-width="5.8" stroke-linejoin="round" stroke-linecap="round"/>
</svg>
<text class="pl" x="598.1" y="782.8">57</text>
<text class="nl" x="1022.3" y="776.6" text-anchor="end">N=20</text>
<text class="nl" x="1022.3" y="804.8" text-anchor="end">effN=43.3</text>
<svg x="594.5" y="1042.5" width="429.0" height="292.0" viewBox="594.5 1042.5 429.0 292.0">
<line x1="594.5" y1="1323.5" x2="1023.5" y2="1323.5" stroke="#bebebe" stroke-width="3.0"/>
<polygon shape-rendering="crispEdges" points="672.3,1323.5 672.3,1321.5 676.5,1323.5 680.7,1322.5 684.9,1323.5 689.1,1323.5 693.4,1323.5 697.6,1323.5 701.8,1323.5 706.0,1323.5 710.2,1323.5 714.4,1323.5 718.6,1323.5 722.8,1323.5 727.1,1316.5 731.3,1323.5 735.5,1323.5 739.7,1318.3 743.9,1317.0 748.1,1303.5 752.3,1303.5 756.6,1312.5 760.8,1289.3 765.0,1317.0 769.2,1320.9 773.4,1323.5 777.6,1323.5 781.8,1320.9 786.0,1317.0 790.3,1314.0 794.5,1309.5 798.7,1316.3 802.9,1316.3 807.1,1303.5 811.3,1316.3 815.5,1309.5 819.8,1296.7 824.0,1303.5 828.2,1303.5 832.4,1309.7 836.6,1309.7 840.8,1297.0 845.0,1282.5 849.2,1289.5 853.5,1297.0 857.7,1275.5 861.9,1296.7 866.1,1308.5 870.3,1316.3 874.5,1316.3 878.7,1303.5 883.0,1315.5 887.2,1317.8 891.4,1316.5 895.6,1318.5 899.8,1316.5 904.0,1316.5 908.2,1320.1 912.5,1323.5 916.7,1319.5 916.7,1323.5" fill="#b3b3b3" stroke="#000" stroke-width="3.0" stroke-linejoin="round"/>
<g fill="#000" shape-rendering="crispEdges"><circle cx="672.3" cy="1321.5" r="4.5"/><circle cx="676.5" cy="1323.5" r="4.5"/><circle cx="680.7" cy="1322.5" r="4.5"/><circle cx="684.9" cy="1323.5" r="4.5"/><circle cx="689.1" cy="1323.5" r="4.5"/><circle cx="693.4" cy="1323.5" r="4.5"/><circle cx="697.6" cy="1323.5" r="4.5"/><circle cx="701.8" cy="1323.5" r="4.5"/><circle cx="706.0" cy="1323.5" r="4.5"/><circle cx="710.2" cy="1323.5" r="4.5"/><circle cx="714.4" cy="1323.5" r="4.5"/><circle cx="718.6" cy="1323.5" r="4.5"/><circle cx="722.8" cy="1323.5" r="4.5"/><circle cx="727.1" cy="1316.5" r="4.5"/><circle cx="731.3" cy="1323.5" r="4.5"/><circle cx="735.5" cy="1323.5" r="4.5"/><circle cx="739.7" cy="1318.3" r="4.5"/><circle cx="743.9" cy="1317.0" r="4.5"/><circle cx="748.1" cy="1303.5" r="4.5"/><circle cx="752.3" cy="1303.5" r="4.5"/><circle cx="756.6" cy="1312.5" r="4.5"/><circle cx="760.8" cy="1289.3" r="4.5"/><circle cx="765.0" cy="1317.0" r="4.5"/><circle cx="769.2" cy="1320.9" r="4.5"/><circle cx="773.4" cy="1323.5" r="4.5"/><circle cx="777.6" cy="1323.5" r="4.5"/><circle cx="781.8" cy="1320.9" r="4.5"/><circle cx="786.0" cy="1317.0" r="4.5"/><circle cx="790.3" cy="1314.0" r="4.5"/><circle cx="794.5" cy="1309.5" r="4.5"/><circle cx="798.7" cy="1316.3" r="4.5"/><circle cx="802.9" cy="1316.3" r="4.5"/><circle cx="807.1" cy="1303.5" r="4.5"/><circle cx="811.3" cy="1316.3" r="4.5"/><circle cx="815.5" cy="1309.5" r="4.5"/><circle cx="819.8" cy="1296.7" r="4.5"/><circle cx="824.0" cy="1303.5" r="4.5"/><circle cx="828.2" cy="1303.5" r="4.5"/><circle cx="832.4" cy="1309.7" r="4.5"/><circle cx="836.6" cy="1309.7" r="4.5"/><circle cx="840.8" cy="1297.0" r="4.5"/><circle cx="845.0" cy="1282.5" r="4.5"/><circle cx="849.2" cy="1289.5" r="4.5"/><circle cx="853.5" cy="1297.0" r="4.5"/><circle cx="857.7" cy="1275.5" r="4.5"/><circle cx="861.9" cy="1296.7" r="4.5"/><circle cx="866.1" cy="1308.5" r="4.5"/><circle cx="870.3" cy="1316.3" r="4.5"/><circle cx="874.5" cy="1316.3" r="4.5"/><circle cx="878.7" cy="1303.5" r="4.5"/><circle cx="883.0" cy="1315.5" r="4.5"/><circle cx="887.2" cy="1317.8" r="4.5"/><circle cx="891.4" cy="1316.5" r="4.5"/><circle cx="895.6" cy="1318.5" r="4.5"/><circle cx="899.8" cy="1316.5" r="4.5"/><circle cx="904.0" cy="1316.5" r="4.5"/><circle cx="908.2" cy="1320.1" r="4.5"/><circle cx="912.5" cy="1323.5" r="4.5"/><circle cx="916.7" cy="1319.5" r="4.5"/></g>
<polyline shape-rendering="crispEdges" points="672.3,1323.2 676.5,1323.2 680.7,1323.2 684.9,1323.2 689.1,1323.2 693.4,1323.2 697.6,1323.2 701.8,1323.2 706.0,1323.2 710.2,1323.2 714.4,1323.2 718.6,1323.2 722.8,1323.2 727.1,1323.2 731.3,1323.2 735.5,1322.9 739.7,1322.3 743.9,1321.7 748.1,1320.9 752.3,1320.1 756.6,1319.2 760.8,1318.1 765.0,1316.8 769.2,1315.4 773.4,1314.0 777.6,1312.4 781.8,1310.6 786.0,1308.5 790.3,1306.5 794.5,1304.5 798.7,1302.5 802.9,1300.4 807.1,1298.6 811.3,1297.4 815.5,1296.6 819.8,1296.0 824.0,1295.6 828.2,1295.6 832.4,1296.4 836.6,1297.6 840.8,1299.0 845.0,1300.6 849.2,1302.5 853.5,1304.6 857.7,1306.6 861.9,1308.4 866.1,1310.2 870.3,1311.8 874.5,1313.1 878.7,1314.3 883.0,1315.3 887.2,1316.2 891.4,1317.0 895.6,1317.7 899.8,1318.4 904.0,1319.2 908.2,1320.0 912.5,1320.9 916.7,1301.7" fill="none" stroke="rgb(0,127,0)" stroke-opacity="0.7" stroke-width="5.8" stroke-linejoin="round" stroke-linecap="round"/>
</svg>
<text class="pl" x="598.1" y="1075.8">58</text>
<text class="nl" x="1022.3" y="1069.6" text-anchor="end">N=5</text>
<text class="nl" x="1022.3" y="1097.8" text-anchor="end">effN=58</text>
<svg x="1023.5" y="165.5" width="429.0" height="292.0" viewBox="1023.5 165.5 429.0 292.0">
<line x1="1023.5" y1="446.5" x2="1452.5" y2="446.5" stroke="#bebebe" stroke-width="3.0"/>
<polygon shape-rendering="crispEdges" points="1084.4,446.5 1084.4,446.0 1088.6,446.5 1092.9,439.2 1097.1,439.2 1101.3,426.0 1105.5,432.9 1109.7,438.3 1113.9,446.5 1118.1,442.3 1122.4,443.5 1126.6,444.2 1130.8,444.2 1135.0,446.5 1139.2,446.5 1143.4,446.5 1147.6,446.5 1151.8,446.5 1156.1,446.5 1160.3,443.5 1164.5,442.3 1168.7,446.5 1172.9,440.0 1177.1,439.2 1181.3,446.5 1185.6,432.9 1189.8,443.5 1194.0,436.7 1198.2,432.9 1202.4,432.9 1206.6,432.9 1210.8,441.1 1215.0,446.0 1219.3,432.8 1223.5,440.1 1227.7,439.2 1231.9,438.3 1236.1,439.2 1240.3,432.8 1244.5,426.3 1248.8,418.9 1253.0,425.8 1257.2,425.8 1261.4,425.8 1265.6,418.9 1269.8,432.8 1274.0,425.8 1278.2,432.8 1282.5,432.8 1286.7,426.5 1290.9,432.8 1295.1,425.8 1299.3,432.8 1303.5,433.7 1307.7,432.8 1312.0,442.9 1316.2,439.2 1320.4,439.5 1324.6,439.5 1328.8,441.1 1333.0,444.5 1337.2,439.2 1341.5,441.1 1345.7,446.5 1349.9,446.5 1354.1,444.8 1358.3,446.5 1362.5,446.5 1366.7,445.5 1366.7,446.5" fill="#b3b3b3" stroke="#000" stroke-width="3.0" stroke-linejoin="round"/>
<g fill="#000" shape-rendering="crispEdges"><circle cx="1084.4" cy="446.0" r="4.5"/><circle cx="1088.6" cy="446.5" r="4.5"/><circle cx="1092.9" cy="439.2" r="4.5"/><circle cx="1097.1" cy="439.2" r="4.5"/><circle cx="1101.3" cy="426.0" r="4.5"/><circle cx="1105.5" cy="432.9" r="4.5"/><circle cx="1109.7" cy="438.3" r="4.5"/><circle cx="1113.9" cy="446.5" r="4.5"/><circle cx="1118.1" cy="442.3" r="4.5"/><circle cx="1122.4" cy="443.5" r="4.5"/><circle cx="1126.6" cy="444.2" r="4.5"/><circle cx="1130.8" cy="444.2" r="4.5"/><circle cx="1135.0" cy="446.5" r="4.5"/><circle cx="1139.2" cy="446.5" r="4.5"/><circle cx="1143.4" cy="446.5" r="4.5"/><circle cx="1147.6" cy="446.5" r="4.5"/><circle cx="1151.8" cy="446.5" r="4.5"/><circle cx="1156.1" cy="446.5" r="4.5"/><circle cx="1160.3" cy="443.5" r="4.5"/><circle cx="1164.5" cy="442.3" r="4.5"/><circle cx="1168.7" cy="446.5" r="4.5"/><circle cx="1172.9" cy="440.0" r="4.5"/><circle cx="1177.1" cy="439.2" r="4.5"/><circle cx="1181.3" cy="446.5" r="4.5"/><circle cx="1185.6" cy="432.9" r="4.5"/><circle cx="1189.8" cy="443.5" r="4.5"/><circle cx="1194.0" cy="436.7" r="4.5"/><circle cx="1198.2" cy="432.9" r="4.5"/><circle cx="1202.4" cy="432.9" r="4.5"/><circle cx="1206.6" cy="432.9" r="4.5"/><circle cx="1210.8" cy="441.1" r="4.5"/><circle cx="1215.0" cy="446.0" r="4.5"/><circle cx="1219.3" cy="432.8" r="4.5"/><circle cx="1223.5" cy="440.1" r="4.5"/><circle cx="1227.7" cy="439.2" r="4.5"/><circle cx="1231.9" cy="438.3" r="4.5"/><circle cx="1236.1" cy="439.2" r="4.5"/><circle cx="1240.3" cy="432.8" r="4.5"/><circle cx="1244.5" cy="426.3" r="4.5"/><circle cx="1248.8" cy="418.9" r="4.5"/><circle cx="1253.0" cy="425.8" r="4.5"/><circle cx="1257.2" cy="425.8" r="4.5"/><circle cx="1261.4" cy="425.8" r="4.5"/><circle cx="1265.6" cy="418.9" r="4.5"/><circle cx="1269.8" cy="432.8" r="4.5"/><circle cx="1274.0" cy="425.8" r="4.5"/><circle cx="1278.2" cy="432.8" r="4.5"/><circle cx="1282.5" cy="432.8" r="4.5"/><circle cx="1286.7" cy="426.5" r="4.5"/><circle cx="1290.9" cy="432.8" r="4.5"/><circle cx="1295.1" cy="425.8" r="4.5"/><circle cx="1299.3" cy="432.8" r="4.5"/><circle cx="1303.5" cy="433.7" r="4.5"/><circle cx="1307.7" cy="432.8" r="4.5"/><circle cx="1312.0" cy="442.9" r="4.5"/><circle cx="1316.2" cy="439.2" r="4.5"/><circle cx="1320.4" cy="439.5" r="4.5"/><circle cx="1324.6" cy="439.5" r="4.5"/><circle cx="1328.8" cy="441.1" r="4.5"/><circle cx="1333.0" cy="444.5" r="4.5"/><circle cx="1337.2" cy="439.2" r="4.5"/><circle cx="1341.5" cy="441.1" r="4.5"/><circle cx="1345.7" cy="446.5" r="4.5"/><circle cx="1349.9" cy="446.5" r="4.5"/><circle cx="1354.1" cy="444.8" r="4.5"/><circle cx="1358.3" cy="446.5" r="4.5"/><circle cx="1362.5" cy="446.5" r="4.5"/><circle cx="1366.7" cy="445.5" r="4.5"/></g>
<polyline shape-rendering="crispEdges" points="1084.4,446.0 1088.6,446.0 1092.9,446.0 1097.1,446.0 1101.3,446.0 1105.5,446.0 1109.7,446.0 1113.9,446.0 1118.1,446.0 1122.4,446.0 1126.6,446.0 1130.8,446.0 1135.0,446.0 1139.2,446.0 1143.4,446.0 1147.6,446.0 1151.8,446.0 1156.1,446.0 1160.3,446.0 1164.5,446.0 1168.7,446.0 1172.9,445.9 1177.1,445.7 1181.3,445.3 1185.6,444.8 1189.8,444.2 1194.0,443.6 1198.2,442.9 1202.4,442.0 1206.6,441.0 1210.8,439.8 1215.0,438.0 1219.3,436.1 1223.5,434.0 1227.7,431.6 1231.9,429.1 1236.1,426.8 1240.3,424.4 1244.5,421.9 1248.8,419.7 1253.0,418.2 1257.2,416.9 1261.4,416.0 1265.6,415.7 1269.8,416.3 1274.0,417.5 1278.2,418.8 1282.5,420.6 1286.7,423.0 1290.9,425.5 1295.1,427.9 1299.3,430.5 1303.5,433.1 1307.7,435.3 1312.0,436.9 1316.2,438.2 1320.4,439.3 1324.6,440.2 1328.8,441.0 1333.0,441.8 1337.2,442.5 1341.5,443.2 1345.7,443.7 1349.9,443.9 1354.1,444.1 1358.3,444.2 1362.5,444.3 1366.7,437.4" fill="none" stroke="rgb(0,127,0)" stroke-opacity="0.7" stroke-width="5.8" stroke-linejoin="round" stroke-linecap="round"/>
</svg>
<text class="pl" x="1027.1" y="198.8">60</text>
<text class="nl" x="1451.3" y="192.6" text-anchor="end">N=18</text>
<text class="nl" x="1451.3" y="220.8" text-anchor="end">effN=119.6</text>
<svg x="1023.5" y="457.5" width="429.0" height="292.0" viewBox="1023.5 457.5 429.0 292.0">
<line x1="1023.5" y1="739.5" x2="1452.5" y2="739.5" stroke="#bebebe" stroke-width="3.0"/>
<polygon shape-rendering="crispEdges" points="1080.2,739.5 1080.2,738.0 1084.4,739.5 1088.6,733.5 1092.9,705.9 1097.1,725.9 1101.3,705.9 1105.5,725.9 1109.7,734.5 1113.9,734.1 1118.1,739.5 1122.4,738.8 1126.6,739.5 1130.8,738.0 1135.0,738.0 1139.2,735.5 1143.4,733.7 1147.6,733.0 1151.8,733.7 1156.1,725.9 1160.3,732.0 1164.5,725.9 1168.7,733.5 1172.9,733.0 1177.1,734.1 1181.3,734.9 1185.6,734.1 1189.8,733.0 1194.0,734.1 1198.2,732.9 1202.4,732.9 1206.6,734.5 1210.8,735.5 1215.0,737.2 1219.3,739.5 1223.5,734.5 1227.7,732.9 1231.9,735.5 1236.1,739.0 1240.3,734.5 1244.5,732.9 1248.8,732.9 1253.0,732.9 1257.2,712.8 1261.4,698.9 1265.6,698.9 1269.8,698.9 1274.0,704.1 1278.2,711.1 1282.5,718.9 1286.7,732.9 1290.9,732.9 1295.1,732.9 1299.3,732.9 1303.5,725.5 1307.7,728.5 1312.0,730.5 1316.2,732.5 1320.4,734.0 1324.6,735.5 1328.8,736.5 1333.0,737.5 1337.2,739.5 1341.5,739.5 1345.7,734.2 1349.9,738.5 1354.1,738.5 1354.1,739.5" fill="#b3b3b3" stroke="#000" stroke-width="3.0" stroke-linejoin="round"/>
<g fill="#000" shape-rendering="crispEdges"><circle cx="1080.2" cy="738.0" r="4.5"/><circle cx="1084.4" cy="739.5" r="4.5"/><circle cx="1088.6" cy="733.5" r="4.5"/><circle cx="1092.9" cy="705.9" r="4.5"/><circle cx="1097.1" cy="725.9" r="4.5"/><circle cx="1101.3" cy="705.9" r="4.5"/><circle cx="1105.5" cy="725.9" r="4.5"/><circle cx="1109.7" cy="734.5" r="4.5"/><circle cx="1113.9" cy="734.1" r="4.5"/><circle cx="1118.1" cy="739.5" r="4.5"/><circle cx="1122.4" cy="738.8" r="4.5"/><circle cx="1126.6" cy="739.5" r="4.5"/><circle cx="1130.8" cy="738.0" r="4.5"/><circle cx="1135.0" cy="738.0" r="4.5"/><circle cx="1139.2" cy="735.5" r="4.5"/><circle cx="1143.4" cy="733.7" r="4.5"/><circle cx="1147.6" cy="733.0" r="4.5"/><circle cx="1151.8" cy="733.7" r="4.5"/><circle cx="1156.1" cy="725.9" r="4.5"/><circle cx="1160.3" cy="732.0" r="4.5"/><circle cx="1164.5" cy="725.9" r="4.5"/><circle cx="1168.7" cy="733.5" r="4.5"/><circle cx="1172.9" cy="733.0" r="4.5"/><circle cx="1177.1" cy="734.1" r="4.5"/><circle cx="1181.3" cy="734.9" r="4.5"/><circle cx="1185.6" cy="734.1" r="4.5"/><circle cx="1189.8" cy="733.0" r="4.5"/><circle cx="1194.0" cy="734.1" r="4.5"/><circle cx="1198.2" cy="732.9" r="4.5"/><circle cx="1202.4" cy="732.9" r="4.5"/><circle cx="1206.6" cy="734.5" r="4.5"/><circle cx="1210.8" cy="735.5" r="4.5"/><circle cx="1215.0" cy="737.2" r="4.5"/><circle cx="1219.3" cy="739.5" r="4.5"/><circle cx="1223.5" cy="734.5" r="4.5"/><circle cx="1227.7" cy="732.9" r="4.5"/><circle cx="1231.9" cy="735.5" r="4.5"/><circle cx="1236.1" cy="739.0" r="4.5"/><circle cx="1240.3" cy="734.5" r="4.5"/><circle cx="1244.5" cy="732.9" r="4.5"/><circle cx="1248.8" cy="732.9" r="4.5"/><circle cx="1253.0" cy="732.9" r="4.5"/><circle cx="1257.2" cy="712.8" r="4.5"/><circle cx="1261.4" cy="698.9" r="4.5"/><circle cx="1265.6" cy="698.9" r="4.5"/><circle cx="1269.8" cy="698.9" r="4.5"/><circle cx="1274.0" cy="704.1" r="4.5"/><circle cx="1278.2" cy="711.1" r="4.5"/><circle cx="1282.5" cy="718.9" r="4.5"/><circle cx="1286.7" cy="732.9" r="4.5"/><circle cx="1290.9" cy="732.9" r="4.5"/><circle cx="1295.1" cy="732.9" r="4.5"/><circle cx="1299.3" cy="732.9" r="4.5"/><circle cx="1303.5" cy="725.5" r="4.5"/><circle cx="1307.7" cy="728.5" r="4.5"/><circle cx="1312.0" cy="730.5" r="4.5"/><circle cx="1316.2" cy="732.5" r="4.5"/><circle cx="1320.4" cy="734.0" r="4.5"/><circle cx="1324.6" cy="735.5" r="4.5"/><circle cx="1328.8" cy="736.5" r="4.5"/><circle cx="1333.0" cy="737.5" r="4.5"/><circle cx="1337.2" cy="739.5" r="4.5"/><circle cx="1341.5" cy="739.5" r="4.5"/><circle cx="1345.7" cy="734.2" r="4.5"/><circle cx="1349.9" cy="738.5" r="4.5"/><circle cx="1354.1" cy="738.5" r="4.5"/></g>
<polyline shape-rendering="crispEdges" points="1080.2,739.0 1084.4,739.0 1088.6,739.0 1092.9,739.0 1097.1,739.0 1101.3,739.0 1105.5,739.0 1109.7,739.0 1113.9,739.0 1118.1,739.0 1122.4,739.0 1126.6,739.0 1130.8,739.0 1135.0,739.0 1139.2,739.0 1143.4,739.0 1147.6,738.9 1151.8,738.8 1156.1,738.6 1160.3,738.3 1164.5,738.1 1168.7,737.8 1172.9,737.5 1177.1,737.1 1181.3,736.7 1185.6,736.3 1189.8,735.7 1194.0,735.2 1198.2,734.7 1202.4,734.2 1206.6,733.7 1210.8,733.0 1215.0,732.1 1219.3,730.6 1223.5,728.8 1227.7,726.8 1231.9,724.9 1236.1,722.9 1240.3,720.7 1244.5,718.6 1248.8,716.5 1253.0,714.2 1257.2,712.2 1261.4,710.8 1265.6,709.9 1269.8,710.0 1274.0,710.9 1278.2,712.1 1282.5,713.6 1286.7,715.3 1290.9,717.2 1295.1,719.2 1299.3,721.5 1303.5,723.7 1307.7,725.7 1312.0,727.4 1316.2,729.0 1320.4,730.4 1324.6,731.7 1328.8,732.9 1333.0,734.0 1337.2,735.0 1341.5,735.7 1345.7,736.1 1349.9,736.4 1354.1,725.0" fill="none" stroke="rgb(0,127,0)" stroke-opacity="0.7" stroke-width="5.8" stroke-linejoin="round" stroke-linecap="round"/>
</svg>
<text class="pl" x="1027.1" y="490.8">61</text>
<text class="nl" x="1451.3" y="484.6" text-anchor="end">N=17</text>
<text class="nl" x="1451.3" y="512.8" text-anchor="end">effN=52.4</text>
<svg x="1023.5" y="749.5" width="429.0" height="293.0" viewBox="1023.5 749.5 429.0 293.0">
<line x1="1023.5" y1="1031.5" x2="1452.5" y2="1031.5" stroke="#bebebe" stroke-width="3.0"/>
<polygon shape-rendering="crispEdges" points="1088.6,1031.5 1088.6,1029.5 1092.9,1029.2 1097.1,1028.5 1101.3,1027.7 1105.5,1028.5 1109.7,1027.7 1113.9,1027.7 1118.1,1031.5 1122.4,1031.5 1126.6,1031.5 1130.8,1031.5 1135.0,1031.5 1139.2,1031.5 1143.4,1031.5 1147.6,1031.5 1151.8,1031.5 1156.1,1030.5 1160.3,1031.5 1164.5,1031.5 1168.7,1031.5 1172.9,1028.5 1177.1,1017.5 1181.3,997.5 1185.6,1025.5 1189.8,1017.5 1194.0,1024.5 1198.2,1024.5 1202.4,1031.5 1206.6,1029.0 1210.8,1028.5 1215.0,1024.7 1219.3,1017.5 1223.5,1017.5 1227.7,1017.5 1231.9,1017.5 1236.1,1024.7 1240.3,1024.7 1244.5,1018.8 1248.8,1018.0 1253.0,1017.5 1257.2,990.9 1261.4,1002.7 1265.6,1004.5 1269.8,1004.5 1274.0,1003.5 1278.2,976.7 1282.5,997.7 1286.7,1011.2 1290.9,1004.5 1295.1,1011.5 1299.3,1018.0 1303.5,1031.5 1307.7,1024.7 1312.0,1025.5 1316.2,1029.5 1320.4,1025.5 1324.6,1026.5 1328.8,1031.5 1333.0,1025.7 1337.2,1031.5 1341.5,1029.0 1345.7,1031.5 1349.9,1027.3 1349.9,1031.5" fill="#b3b3b3" stroke="#000" stroke-width="3.0" stroke-linejoin="round"/>
<g fill="#000" shape-rendering="crispEdges"><circle cx="1088.6" cy="1029.5" r="4.5"/><circle cx="1092.9" cy="1029.2" r="4.5"/><circle cx="1097.1" cy="1028.5" r="4.5"/><circle cx="1101.3" cy="1027.7" r="4.5"/><circle cx="1105.5" cy="1028.5" r="4.5"/><circle cx="1109.7" cy="1027.7" r="4.5"/><circle cx="1113.9" cy="1027.7" r="4.5"/><circle cx="1118.1" cy="1031.5" r="4.5"/><circle cx="1122.4" cy="1031.5" r="4.5"/><circle cx="1126.6" cy="1031.5" r="4.5"/><circle cx="1130.8" cy="1031.5" r="4.5"/><circle cx="1135.0" cy="1031.5" r="4.5"/><circle cx="1139.2" cy="1031.5" r="4.5"/><circle cx="1143.4" cy="1031.5" r="4.5"/><circle cx="1147.6" cy="1031.5" r="4.5"/><circle cx="1151.8" cy="1031.5" r="4.5"/><circle cx="1156.1" cy="1030.5" r="4.5"/><circle cx="1160.3" cy="1031.5" r="4.5"/><circle cx="1164.5" cy="1031.5" r="4.5"/><circle cx="1168.7" cy="1031.5" r="4.5"/><circle cx="1172.9" cy="1028.5" r="4.5"/><circle cx="1177.1" cy="1017.5" r="4.5"/><circle cx="1181.3" cy="997.5" r="4.5"/><circle cx="1185.6" cy="1025.5" r="4.5"/><circle cx="1189.8" cy="1017.5" r="4.5"/><circle cx="1194.0" cy="1024.5" r="4.5"/><circle cx="1198.2" cy="1024.5" r="4.5"/><circle cx="1202.4" cy="1031.5" r="4.5"/><circle cx="1206.6" cy="1029.0" r="4.5"/><circle cx="1210.8" cy="1028.5" r="4.5"/><circle cx="1215.0" cy="1024.7" r="4.5"/><circle cx="1219.3" cy="1017.5" r="4.5"/><circle cx="1223.5" cy="1017.5" r="4.5"/><circle cx="1227.7" cy="1017.5" r="4.5"/><circle cx="1231.9" cy="1017.5" r="4.5"/><circle cx="1236.1" cy="1024.7" r="4.5"/><circle cx="1240.3" cy="1024.7" r="4.5"/><circle cx="1244.5" cy="1018.8" r="4.5"/><circle cx="1248.8" cy="1018.0" r="4.5"/><circle cx="1253.0" cy="1017.5" r="4.5"/><circle cx="1257.2" cy="990.9" r="4.5"/><circle cx="1261.4" cy="1002.7" r="4.5"/><circle cx="1265.6" cy="1004.5" r="4.5"/><circle cx="1269.8" cy="1004.5" r="4.5"/><circle cx="1274.0" cy="1003.5" r="4.5"/><circle cx="1278.2" cy="976.7" r="4.5"/><circle cx="1282.5" cy="997.7" r="4.5"/><circle cx="1286.7" cy="1011.2" r="4.5"/><circle cx="1290.9" cy="1004.5" r="4.5"/><circle cx="1295.1" cy="1011.5" r="4.5"/><circle cx="1299.3" cy="1018.0" r="4.5"/><circle cx="1303.5" cy="1031.5" r="4.5"/><circle cx="1307.7" cy="1024.7" r="4.5"/><circle cx="1312.0" cy="1025.5" r="4.5"/><circle cx="1316.2" cy="1029.5" r="4.5"/><circle cx="1320.4" cy="1025.5" r="4.5"/><circle cx="1324.6" cy="1026.5" r="4.5"/><circle cx="1328.8" cy="1031.5" r="4.5"/><circle cx="1333.0" cy="1025.7" r="4.5"/><circle cx="1337.2" cy="1031.5" r="4.5"/><circle cx="1341.5" cy="1029.0" r="4.5"/><circle cx="1345.7" cy="1031.5" r="4.5"/><circle cx="1349.9" cy="1027.3" r="4.5"/></g>
<polyline shape-rendering="crispEdges" points="1088.6,1031.0 1092.9,1031.0 1097.1,1031.0 1101.3,1031.0 1105.5,1031.0 1109.7,1031.0 1113.9,1031.0 1118.1,1031.0 1122.4,1031.0 1126.6,1031.0 1130.8,1031.0 1135.0,1031.0 1139.2,1031.0 1143.4,1031.0 1147.6,1031.0 1151.8,1030.9 1156.1,1030.7 1160.3,1030.5 1164.5,1030.1 1168.7,1029.6 1172.9,1029.1 1177.1,1028.5 1181.3,1028.0 1185.6,1027.4 1189.8,1026.8 1194.0,1026.2 1198.2,1025.4 1202.4,1024.5 1206.6,1023.4 1210.8,1022.2 1215.0,1021.0 1219.3,1019.9 1223.5,1018.9 1227.7,1017.9 1231.9,1016.8 1236.1,1015.6 1240.3,1014.1 1244.5,1012.5 1248.8,1011.0 1253.0,1009.6 1257.2,1008.3 1261.4,1007.1 1265.6,1006.1 1269.8,1005.4 1274.0,1004.8 1278.2,1004.5 1282.5,1005.0 1286.7,1006.3 1290.9,1007.9 1295.1,1009.4 1299.3,1011.1 1303.5,1012.9 1307.7,1014.6 1312.0,1016.4 1316.2,1018.1 1320.4,1019.8 1324.6,1021.4 1328.8,1022.8 1333.0,1023.8 1337.2,1024.9 1341.5,1026.0 1345.7,1027.3 1349.9,1010.3" fill="none" stroke="rgb(0,127,0)" stroke-opacity="0.7" stroke-width="5.8" stroke-linejoin="round" stroke-linecap="round"/>
</svg>
<text class="pl" x="1027.1" y="782.8">62</text>
<text class="nl" x="1451.3" y="776.6" text-anchor="end">N=6</text>
<text class="nl" x="1451.3" y="804.8" text-anchor="end">effN=81</text>
<svg x="1023.5" y="1042.5" width="429.0" height="292.0" viewBox="1023.5 1042.5 429.0 292.0">
<line x1="1023.5" y1="1323.5" x2="1452.5" y2="1323.5" stroke="#bebebe" stroke-width="3.0"/>
<polygon shape-rendering="crispEdges" points="1219.3,1323.5 1219.3,1320.6 1223.5,1323.5 1227.7,1323.5 1231.9,1319.1 1236.1,1317.0 1240.3,1310.5 1244.5,1291.5 1248.8,1310.5 1253.0,1284.7 1257.2,1271.4 1261.4,1297.5 1265.6,1284.7 1269.8,1271.4 1274.0,1297.5 1278.2,1304.0 1282.5,1317.0 1286.7,1258.5 1290.9,1291.1 1295.1,1310.5 1299.3,1291.1 1303.5,1297.5 1307.7,1265.6 1312.0,1317.0 1316.2,1314.5 1320.4,1323.5 1324.6,1310.5 1324.6,1323.5" fill="#b3b3b3" stroke="#000" stroke-width="3.0" stroke-linejoin="round"/>
<g fill="#000" shape-rendering="crispEdges"><circle cx="1219.3" cy="1320.6" r="4.5"/><circle cx="1223.5" cy="1323.5" r="4.5"/><circle cx="1227.7" cy="1323.5" r="4.5"/><circle cx="1231.9" cy="1319.1" r="4.5"/><circle cx="1236.1" cy="1317.0" r="4.5"/><circle cx="1240.3" cy="1310.5" r="4.5"/><circle cx="1244.5" cy="1291.5" r="4.5"/><circle cx="1248.8" cy="1310.5" r="4.5"/><circle cx="1253.0" cy="1284.7" r="4.5"/><circle cx="1257.2" cy="1271.4" r="4.5"/><circle cx="1261.4" cy="1297.5" r="4.5"/><circle cx="1265.6" cy="1284.7" r="4.5"/><circle cx="1269.8" cy="1271.4" r="4.5"/><circle cx="1274.0" cy="1297.5" r="4.5"/><circle cx="1278.2" cy="1304.0" r="4.5"/><circle cx="1282.5" cy="1317.0" r="4.5"/><circle cx="1286.7" cy="1258.5" r="4.5"/><circle cx="1290.9" cy="1291.1" r="4.5"/><circle cx="1295.1" cy="1310.5" r="4.5"/><circle cx="1299.3" cy="1291.1" r="4.5"/><circle cx="1303.5" cy="1297.5" r="4.5"/><circle cx="1307.7" cy="1265.6" r="4.5"/><circle cx="1312.0" cy="1317.0" r="4.5"/><circle cx="1316.2" cy="1314.5" r="4.5"/><circle cx="1320.4" cy="1323.5" r="4.5"/><circle cx="1324.6" cy="1310.5" r="4.5"/></g>
<polyline shape-rendering="crispEdges" points="1219.3,1250.5 1223.5,1306.2 1227.7,1305.5 1231.9,1304.7 1236.1,1304.0 1240.3,1303.2 1244.5,1302.2 1248.8,1301.5 1253.0,1301.2 1257.2,1301.2 1261.4,1301.2 1265.6,1301.2 1269.8,1301.2 1274.0,1301.4 1278.2,1301.8 1282.5,1302.4 1286.7,1303.0 1290.9,1303.8 1295.1,1305.0 1299.3,1306.2 1303.5,1307.6 1307.7,1309.2 1312.0,1310.5 1316.2,1311.5 1320.4,1312.3 1324.6,1256.7" fill="none" stroke="rgb(0,127,0)" stroke-opacity="0.7" stroke-width="5.8" stroke-linejoin="round" stroke-linecap="round"/>
</svg>
<text class="pl" x="1027.1" y="1075.8">63</text>
<text class="nl" x="1451.3" y="1069.6" text-anchor="end">N=2</text>
<text class="nl" x="1451.3" y="1097.8" text-anchor="end">effN=20.3</text>
<svg x="1452.5" y="165.5" width="429.0" height="292.0" viewBox="1452.5 165.5 429.0 292.0">
<line x1="1452.5" y1="446.5" x2="1881.5" y2="446.5" stroke="#bebebe" stroke-width="3.0"/>
<polygon shape-rendering="crispEdges" points="1513.4,446.5 1513.4,441.9 1517.6,440.3 1521.9,440.3 1526.1,440.3 1530.3,440.3 1534.5,441.9 1538.7,442.3 1542.9,446.5 1547.1,446.5 1551.4,446.5 1555.6,446.5 1559.8,446.5 1564.0,446.5 1568.2,446.5 1572.4,445.0 1576.6,446.5 1580.8,445.0 1585.1,446.5 1589.3,445.0 1593.5,446.5 1597.7,446.5 1601.9,446.0 1606.1,445.0 1610.3,445.0 1614.6,445.0 1618.8,445.5 1623.0,445.5 1627.2,445.5 1631.4,446.5 1635.6,445.1 1639.8,446.5 1644.0,444.5 1648.3,446.0 1652.5,443.2 1656.7,442.3 1660.9,444.0 1665.1,446.0 1669.3,441.4 1673.5,443.2 1677.8,445.5 1682.0,440.0 1686.2,440.5 1690.4,433.0 1694.6,433.0 1698.8,433.0 1703.0,419.5 1707.2,426.5 1711.5,433.0 1715.7,406.0 1719.9,412.8 1724.1,412.8 1728.3,404.7 1732.5,400.2 1736.7,400.2 1741.0,419.5 1745.2,419.5 1749.4,431.6 1753.6,431.6 1757.8,426.2 1762.0,437.9 1766.2,433.0 1770.5,438.8 1774.7,440.0 1778.9,440.5 1783.1,443.5 1787.3,446.5 1791.5,446.5 1795.7,446.0 1795.7,446.5" fill="#b3b3b3" stroke="#000" stroke-width="3.0" stroke-linejoin="round"/>
<g fill="#000" shape-rendering="crispEdges"><circle cx="1513.4" cy="441.9" r="4.5"/><circle cx="1517.6" cy="440.3" r="4.5"/><circle cx="1521.9" cy="440.3" r="4.5"/><circle cx="1526.1" cy="440.3" r="4.5"/><circle cx="1530.3" cy="440.3" r="4.5"/><circle cx="1534.5" cy="441.9" r="4.5"/><circle cx="1538.7" cy="442.3" r="4.5"/><circle cx="1542.9" cy="446.5" r="4.5"/><circle cx="1547.1" cy="446.5" r="4.5"/><circle cx="1551.4" cy="446.5" r="4.5"/><circle cx="1555.6" cy="446.5" r="4.5"/><circle cx="1559.8" cy="446.5" r="4.5"/><circle cx="1564.0" cy="446.5" r="4.5"/><circle cx="1568.2" cy="446.5" r="4.5"/><circle cx="1572.4" cy="445.0" r="4.5"/><circle cx="1576.6" cy="446.5" r="4.5"/><circle cx="1580.8" cy="445.0" r="4.5"/><circle cx="1585.1" cy="446.5" r="4.5"/><circle cx="1589.3" cy="445.0" r="4.5"/><circle cx="1593.5" cy="446.5" r="4.5"/><circle cx="1597.7" cy="446.5" r="4.5"/><circle cx="1601.9" cy="446.0" r="4.5"/><circle cx="1606.1" cy="445.0" r="4.5"/><circle cx="1610.3" cy="445.0" r="4.5"/><circle cx="1614.6" cy="445.0" r="4.5"/><circle cx="1618.8" cy="445.5" r="4.5"/><circle cx="1623.0" cy="445.5" r="4.5"/><circle cx="1627.2" cy="445.5" r="4.5"/><circle cx="1631.4" cy="446.5" r="4.5"/><circle cx="1635.6" cy="445.1" r="4.5"/><circle cx="1639.8" cy="446.5" r="4.5"/><circle cx="1644.0" cy="444.5" r="4.5"/><circle cx="1648.3" cy="446.0" r="4.5"/><circle cx="1652.5" cy="443.2" r="4.5"/><circle cx="1656.7" cy="442.3" r="4.5"/><circle cx="1660.9" cy="444.0" r="4.5"/><circle cx="1665.1" cy="446.0" r="4.5"/><circle cx="1669.3" cy="441.4" r="4.5"/><circle cx="1673.5" cy="443.2" r="4.5"/><circle cx="1677.8" cy="445.5" r="4.5"/><circle cx="1682.0" cy="440.0" r="4.5"/><circle cx="1686.2" cy="440.5" r="4.5"/><circle cx="1690.4" cy="433.0" r="4.5"/><circle cx="1694.6" cy="433.0" r="4.5"/><circle cx="1698.8" cy="433.0" r="4.5"/><circle cx="1703.0" cy="419.5" r="4.5"/><circle cx="1707.2" cy="426.5" r="4.5"/><circle cx="1711.5" cy="433.0" r="4.5"/><circle cx="1715.7" cy="406.0" r="4.5"/><circle cx="1719.9" cy="412.8" r="4.5"/><circle cx="1724.1" cy="412.8" r="4.5"/><circle cx="1728.3" cy="404.7" r="4.5"/><circle cx="1732.5" cy="400.2" r="4.5"/><circle cx="1736.7" cy="400.2" r="4.5"/><circle cx="1741.0" cy="419.5" r="4.5"/><circle cx="1745.2" cy="419.5" r="4.5"/><circle cx="1749.4" cy="431.6" r="4.5"/><circle cx="1753.6" cy="431.6" r="4.5"/><circle cx="1757.8" cy="426.2" r="4.5"/><circle cx="1762.0" cy="437.9" r="4.5"/><circle cx="1766.2" cy="433.0" r="4.5"/><circle cx="1770.5" cy="438.8" r="4.5"/><circle cx="1774.7" cy="440.0" r="4.5"/><circle cx="1778.9" cy="440.5" r="4.5"/><circle cx="1783.1" cy="443.5" r="4.5"/><circle cx="1787.3" cy="446.5" r="4.5"/><circle cx="1791.5" cy="446.5" r="4.5"/><circle cx="1795.7" cy="446.0" r="4.5"/></g>
<polyline shape-rendering="crispEdges" points="1513.4,446.0 1517.6,446.0 1521.9,446.0 1526.1,446.0 1530.3,446.0 1534.5,446.0 1538.7,446.0 1542.9,446.0 1547.1,446.0 1551.4,446.0 1555.6,446.0 1559.8,446.0 1564.0,446.0 1568.2,446.0 1572.4,446.0 1576.6,445.9 1580.8,445.9 1585.1,445.9 1589.3,445.9 1593.5,445.9 1597.7,445.8 1601.9,445.5 1606.1,445.1 1610.3,444.7 1614.6,444.1 1618.8,443.4 1623.0,442.5 1627.2,441.4 1631.4,440.2 1635.6,438.8 1639.8,437.2 1644.0,435.6 1648.3,433.7 1652.5,431.8 1656.7,429.5 1660.9,426.8 1665.1,424.2 1669.3,422.2 1673.5,420.9 1677.8,420.0 1682.0,419.9 1686.2,420.1 1690.4,420.5 1694.6,421.1 1698.8,422.6 1703.0,424.7 1707.2,426.4 1711.5,427.8 1715.7,429.1 1719.9,430.3 1724.1,431.5 1728.3,432.6 1732.5,433.7 1736.7,434.7 1741.0,435.7 1745.2,436.7 1749.4,437.6 1753.6,438.4 1757.8,439.2 1762.0,439.9 1766.2,440.6 1770.5,441.3 1774.7,441.9 1778.9,442.5 1783.1,443.1 1787.3,443.6 1791.5,444.2 1795.7,435.2" fill="none" stroke="rgb(0,127,0)" stroke-opacity="0.7" stroke-width="5.8" stroke-linejoin="round" stroke-linecap="round"/>
</svg>
<text class="pl" x="1456.1" y="198.8">64</text>
<text class="nl" x="1880.3" y="192.6" text-anchor="end">N=19</text>
<text class="nl" x="1880.3" y="220.8" text-anchor="end">effN=36.7</text>
<svg x="1452.5" y="457.5" width="429.0" height="292.0" viewBox="1452.5 457.5 429.0 292.0">
<line x1="1452.5" y1="739.5" x2="1881.5" y2="739.5" stroke="#bebebe" stroke-width="3.0"/>
<polygon shape-rendering="crispEdges" points="1513.4,739.5 1513.4,738.0 1517.6,739.1 1521.9,739.5 1526.1,738.0 1530.3,736.8 1534.5,735.7 1538.7,734.1 1542.9,733.0 1547.1,733.0 1551.4,733.0 1555.6,733.0 1559.8,733.0 1564.0,734.1 1568.2,733.0 1572.4,733.0 1576.6,733.0 1580.8,733.0 1585.1,719.7 1589.3,726.3 1593.5,734.1 1597.7,733.0 1601.9,733.3 1606.1,733.7 1610.3,738.5 1614.6,739.0 1618.8,739.0 1623.0,737.5 1627.2,736.5 1631.4,733.0 1635.6,739.2 1639.8,734.5 1644.0,736.5 1648.3,739.0 1652.5,736.5 1656.7,735.5 1660.9,734.5 1665.1,732.9 1669.3,734.5 1673.5,733.3 1677.8,732.9 1682.0,719.8 1686.2,726.8 1690.4,719.8 1694.6,693.6 1698.8,712.8 1703.0,712.8 1707.2,693.6 1711.5,719.8 1715.7,699.7 1719.9,726.8 1724.1,712.8 1728.3,712.8 1732.5,719.8 1736.7,727.5 1741.0,733.7 1745.2,733.7 1749.4,734.5 1753.6,734.5 1757.8,735.5 1762.0,736.5 1766.2,737.2 1770.5,739.5 1774.7,738.1 1778.9,737.5 1783.1,739.2 1783.1,739.5" fill="#b3b3b3" stroke="#000" stroke-width="3.0" stroke-linejoin="round"/>
<g fill="#000" shape-rendering="crispEdges"><circle cx="1513.4" cy="738.0" r="4.5"/><circle cx="1517.6" cy="739.1" r="4.5"/><circle cx="1521.9" cy="739.5" r="4.5"/><circle cx="1526.1" cy="738.0" r="4.5"/><circle cx="1530.3" cy="736.8" r="4.5"/><circle cx="1534.5" cy="735.7" r="4.5"/><circle cx="1538.7" cy="734.1" r="4.5"/><circle cx="1542.9" cy="733.0" r="4.5"/><circle cx="1547.1" cy="733.0" r="4.5"/><circle cx="1551.4" cy="733.0" r="4.5"/><circle cx="1555.6" cy="733.0" r="4.5"/><circle cx="1559.8" cy="733.0" r="4.5"/><circle cx="1564.0" cy="734.1" r="4.5"/><circle cx="1568.2" cy="733.0" r="4.5"/><circle cx="1572.4" cy="733.0" r="4.5"/><circle cx="1576.6" cy="733.0" r="4.5"/><circle cx="1580.8" cy="733.0" r="4.5"/><circle cx="1585.1" cy="719.7" r="4.5"/><circle cx="1589.3" cy="726.3" r="4.5"/><circle cx="1593.5" cy="734.1" r="4.5"/><circle cx="1597.7" cy="733.0" r="4.5"/><circle cx="1601.9" cy="733.3" r="4.5"/><circle cx="1606.1" cy="733.7" r="4.5"/><circle cx="1610.3" cy="738.5" r="4.5"/><circle cx="1614.6" cy="739.0" r="4.5"/><circle cx="1618.8" cy="739.0" r="4.5"/><circle cx="1623.0" cy="737.5" r="4.5"/><circle cx="1627.2" cy="736.5" r="4.5"/><circle cx="1631.4" cy="733.0" r="4.5"/><circle cx="1635.6" cy="739.2" r="4.5"/><circle cx="1639.8" cy="734.5" r="4.5"/><circle cx="1644.0" cy="736.5" r="4.5"/><circle cx="1648.3" cy="739.0" r="4.5"/><circle cx="1652.5" cy="736.5" r="4.5"/><circle cx="1656.7" cy="735.5" r="4.5"/><circle cx="1660.9" cy="734.5" r="4.5"/><circle cx="1665.1" cy="732.9" r="4.5"/><circle cx="1669.3" cy="734.5" r="4.5"/><circle cx="1673.5" cy="733.3" r="4.5"/><circle cx="1677.8" cy="732.9" r="4.5"/><circle cx="1682.0" cy="719.8" r="4.5"/><circle cx="1686.2" cy="726.8" r="4.5"/><circle cx="1690.4" cy="719.8" r="4.5"/><circle cx="1694.6" cy="693.6" r="4.5"/><circle cx="1698.8" cy="712.8" r="4.5"/><circle cx="1703.0" cy="712.8" r="4.5"/><circle cx="1707.2" cy="693.6" r="4.5"/><circle cx="1711.5" cy="719.8" r="4.5"/><circle cx="1715.7" cy="699.7" r="4.5"/><circle cx="1719.9" cy="726.8" r="4.5"/><circle cx="1724.1" cy="712.8" r="4.5"/><circle cx="1728.3" cy="712.8" r="4.5"/><circle cx="1732.5" cy="719.8" r="4.5"/><circle cx="1736.7" cy="727.5" r="4.5"/><circle cx="1741.0" cy="733.7" r="4.5"/><circle cx="1745.2" cy="733.7" r="4.5"/><circle cx="1749.4" cy="734.5" r="4.5"/><circle cx="1753.6" cy="734.5" r="4.5"/><circle cx="1757.8" cy="735.5" r="4.5"/><circle cx="1762.0" cy="736.5" r="4.5"/><circle cx="1766.2" cy="737.2" r="4.5"/><circle cx="1770.5" cy="739.5" r="4.5"/><circle cx="1774.7" cy="738.1" r="4.5"/><circle cx="1778.9" cy="737.5" r="4.5"/><circle cx="1783.1" cy="739.2" r="4.5"/></g>
<polyline shape-rendering="crispEdges" points="1513.4,739.0 1517.6,739.0 1521.9,739.0 1526.1,739.0 1530.3,739.0 1534.5,739.0 1538.7,739.0 1542.9,739.0 1547.1,739.0 1551.4,739.0 1555.6,739.0 1559.8,739.0 1564.0,739.0 1568.2,739.0 1572.4,739.0 1576.6,739.0 1580.8,739.0 1585.1,739.0 1589.3,739.0 1593.5,739.0 1597.7,739.0 1601.9,738.9 1606.1,738.6 1610.3,738.0 1614.6,737.3 1618.8,736.6 1623.0,735.9 1627.2,735.3 1631.4,734.5 1635.6,733.3 1639.8,731.5 1644.0,729.3 1648.3,727.2 1652.5,725.3 1656.7,723.5 1660.9,721.6 1665.1,719.6 1669.3,717.2 1673.5,714.7 1677.8,712.8 1682.0,711.4 1686.2,710.3 1690.4,709.8 1694.6,710.1 1698.8,710.9 1703.0,712.1 1707.2,713.8 1711.5,715.7 1715.7,717.8 1719.9,720.2 1724.1,722.5 1728.3,724.5 1732.5,726.3 1736.7,727.9 1741.0,729.0 1745.2,729.9 1749.4,730.6 1753.6,731.4 1757.8,732.3 1762.0,733.2 1766.2,733.9 1770.5,734.5 1774.7,735.1 1778.9,735.5 1783.1,718.9" fill="none" stroke="rgb(0,127,0)" stroke-opacity="0.7" stroke-width="5.8" stroke-linejoin="round" stroke-linecap="round"/>
</svg>
<text class="pl" x="1456.1" y="490.8">65</text>
<text class="nl" x="1880.3" y="484.6" text-anchor="end">N=14</text>
<text class="nl" x="1880.3" y="512.8" text-anchor="end">effN=71</text>
<svg x="1452.5" y="749.5" width="429.0" height="293.0" viewBox="1452.5 749.5 429.0 293.0">
<line x1="1452.5" y1="1031.5" x2="1881.5" y2="1031.5" stroke="#bebebe" stroke-width="3.0"/>
<polygon shape-rendering="crispEdges" points="1551.4,1031.5 1551.4,1024.4 1555.6,1024.4 1559.8,1031.5 1564.0,1003.7 1568.2,1024.4 1572.4,1017.3 1576.6,1003.7 1580.8,1031.5 1585.1,1031.5 1589.3,1031.5 1593.5,1017.5 1597.7,1031.5 1601.9,1031.5 1606.1,1024.4 1610.3,1003.7 1614.6,1024.4 1618.8,976.7 1623.0,1003.7 1627.2,1017.5 1631.4,1017.5 1635.6,1024.4 1639.8,1024.4 1644.0,1031.5 1648.3,1031.5 1652.5,1024.4 1656.7,1031.5 1660.9,1024.4 1665.1,1025.2 1669.3,1031.5 1673.5,1031.5 1677.8,1024.4 1682.0,1003.2 1686.2,976.5 1690.4,1024.5 1694.6,1024.5 1698.8,1024.5 1703.0,1010.5 1707.2,1010.5 1711.5,1010.5 1715.7,1010.5 1719.9,1010.5 1724.1,1003.2 1728.3,1017.5 1732.5,1010.5 1736.7,1024.5 1741.0,1025.5 1745.2,1027.5 1749.4,1024.5 1749.4,1031.5" fill="#b3b3b3" stroke="#000" stroke-width="3.0" stroke-linejoin="round"/>
<g fill="#000" shape-rendering="crispEdges"><circle cx="1551.4" cy="1024.4" r="4.5"/><circle cx="1555.6" cy="1024.4" r="4.5"/><circle cx="1559.8" cy="1031.5" r="4.5"/><circle cx="1564.0" cy="1003.7" r="4.5"/><circle cx="1568.2" cy="1024.4" r="4.5"/><circle cx="1572.4" cy="1017.3" r="4.5"/><circle cx="1576.6" cy="1003.7" r="4.5"/><circle cx="1580.8" cy="1031.5" r="4.5"/><circle cx="1585.1" cy="1031.5" r="4.5"/><circle cx="1589.3" cy="1031.5" r="4.5"/><circle cx="1593.5" cy="1017.5" r="4.5"/><circle cx="1597.7" cy="1031.5" r="4.5"/><circle cx="1601.9" cy="1031.5" r="4.5"/><circle cx="1606.1" cy="1024.4" r="4.5"/><circle cx="1610.3" cy="1003.7" r="4.5"/><circle cx="1614.6" cy="1024.4" r="4.5"/><circle cx="1618.8" cy="976.7" r="4.5"/><circle cx="1623.0" cy="1003.7" r="4.5"/><circle cx="1627.2" cy="1017.5" r="4.5"/><circle cx="1631.4" cy="1017.5" r="4.5"/><circle cx="1635.6" cy="1024.4" r="4.5"/><circle cx="1639.8" cy="1024.4" r="4.5"/><circle cx="1644.0" cy="1031.5" r="4.5"/><circle cx="1648.3" cy="1031.5" r="4.5"/><circle cx="1652.5" cy="1024.4" r="4.5"/><circle cx="1656.7" cy="1031.5" r="4.5"/><circle cx="1660.9" cy="1024.4" r="4.5"/><circle cx="1665.1" cy="1025.2" r="4.5"/><circle cx="1669.3" cy="1031.5" r="4.5"/><circle cx="1673.5" cy="1031.5" r="4.5"/><circle cx="1677.8" cy="1024.4" r="4.5"/><circle cx="1682.0" cy="1003.2" r="4.5"/><circle cx="1686.2" cy="976.5" r="4.5"/><circle cx="1690.4" cy="1024.5" r="4.5"/><circle cx="1694.6" cy="1024.5" r="4.5"/><circle cx="1698.8" cy="1024.5" r="4.5"/><circle cx="1703.0" cy="1010.5" r="4.5"/><circle cx="1707.2" cy="1010.5" r="4.5"/><circle cx="1711.5" cy="1010.5" r="4.5"/><circle cx="1715.7" cy="1010.5" r="4.5"/><circle cx="1719.9" cy="1010.5" r="4.5"/><circle cx="1724.1" cy="1003.2" r="4.5"/><circle cx="1728.3" cy="1017.5" r="4.5"/><circle cx="1732.5" cy="1010.5" r="4.5"/><circle cx="1736.7" cy="1024.5" r="4.5"/><circle cx="1741.0" cy="1025.5" r="4.5"/><circle cx="1745.2" cy="1027.5" r="4.5"/><circle cx="1749.4" cy="1024.5" r="4.5"/></g>
<polyline shape-rendering="crispEdges" points="1551.4,1031.0 1555.6,1031.0 1559.8,1031.0 1564.0,1031.0 1568.2,1031.0 1572.4,1031.0 1576.6,1030.9 1580.8,1030.7 1585.1,1030.5 1589.3,1030.3 1593.5,1030.0 1597.7,1029.7 1601.9,1029.3 1606.1,1029.0 1610.3,1028.6 1614.6,1028.1 1618.8,1027.4 1623.0,1026.7 1627.2,1025.9 1631.4,1025.0 1635.6,1024.0 1639.8,1022.8 1644.0,1021.5 1648.3,1020.0 1652.5,1018.5 1656.7,1017.0 1660.9,1015.3 1665.1,1013.4 1669.3,1011.6 1673.5,1009.8 1677.8,1007.9 1682.0,1005.9 1686.2,1004.6 1690.4,1003.8 1694.6,1003.2 1698.8,1002.9 1703.0,1003.1 1707.2,1003.8 1711.5,1004.8 1715.7,1006.0 1719.9,1008.1 1724.1,1010.5 1728.3,1012.8 1732.5,1015.3 1736.7,1017.3 1741.0,1018.5 1745.2,1019.2 1749.4,960.9" fill="none" stroke="rgb(0,127,0)" stroke-opacity="0.7" stroke-width="5.8" stroke-linejoin="round" stroke-linecap="round"/>
</svg>
<text class="pl" x="1456.1" y="782.8">66</text>
<text class="nl" x="1880.3" y="776.6" text-anchor="end">N=2</text>
<text class="nl" x="1880.3" y="804.8" text-anchor="end">effN=22.8</text>
<svg x="1452.5" y="1042.5" width="429.0" height="292.0" viewBox="1452.5 1042.5 429.0 292.0">
<line x1="1452.5" y1="1323.5" x2="1881.5" y2="1323.5" stroke="#bebebe" stroke-width="3.0"/>
<polygon shape-rendering="crispEdges" points="1644.0,1323.5 1644.0,1319.7 1648.3,1323.5 1652.5,1323.5 1656.7,1323.5 1660.9,1323.5 1665.1,1323.5 1669.3,1319.7 1673.5,1323.5 1677.8,1321.0 1682.0,1317.5 1686.2,1310.9 1690.4,1316.7 1694.6,1304.7 1698.8,1304.7 1703.0,1304.7 1707.2,1310.1 1711.5,1297.2 1715.7,1297.2 1719.9,1310.1 1724.1,1290.9 1728.3,1240.1 1732.5,1227.6 1736.7,1290.9 1741.0,1240.1 1745.2,1310.9 1749.4,1278.8 1753.6,1297.2 1757.8,1320.9 1762.0,1323.5 1766.2,1322.5 1770.5,1317.6 1770.5,1323.5" fill="#b3b3b3" stroke="#000" stroke-width="3.0" stroke-linejoin="round"/>
<g fill="#000" shape-rendering="crispEdges"><circle cx="1644.0" cy="1319.7" r="4.5"/><circle cx="1648.3" cy="1323.5" r="4.5"/><circle cx="1652.5" cy="1323.5" r="4.5"/><circle cx="1656.7" cy="1323.5" r="4.5"/><circle cx="1660.9" cy="1323.5" r="4.5"/><circle cx="1665.1" cy="1323.5" r="4.5"/><circle cx="1669.3" cy="1319.7" r="4.5"/><circle cx="1673.5" cy="1323.5" r="4.5"/><circle cx="1677.8" cy="1321.0" r="4.5"/><circle cx="1682.0" cy="1317.5" r="4.5"/><circle cx="1686.2" cy="1310.9" r="4.5"/><circle cx="1690.4" cy="1316.7" r="4.5"/><circle cx="1694.6" cy="1304.7" r="4.5"/><circle cx="1698.8" cy="1304.7" r="4.5"/><circle cx="1703.0" cy="1304.7" r="4.5"/><circle cx="1707.2" cy="1310.1" r="4.5"/><circle cx="1711.5" cy="1297.2" r="4.5"/><circle cx="1715.7" cy="1297.2" r="4.5"/><circle cx="1719.9" cy="1310.1" r="4.5"/><circle cx="1724.1" cy="1290.9" r="4.5"/><circle cx="1728.3" cy="1240.1" r="4.5"/><circle cx="1732.5" cy="1227.6" r="4.5"/><circle cx="1736.7" cy="1290.9" r="4.5"/><circle cx="1741.0" cy="1240.1" r="4.5"/><circle cx="1745.2" cy="1310.9" r="4.5"/><circle cx="1749.4" cy="1278.8" r="4.5"/><circle cx="1753.6" cy="1297.2" r="4.5"/><circle cx="1757.8" cy="1320.9" r="4.5"/><circle cx="1762.0" cy="1323.5" r="4.5"/><circle cx="1766.2" cy="1322.5" r="4.5"/><circle cx="1770.5" cy="1317.6" r="4.5"/></g>
<polyline shape-rendering="crispEdges" points="1644.0,1274.2 1648.3,1312.2 1652.5,1311.0 1656.7,1309.7 1660.9,1308.4 1665.1,1307.0 1669.3,1305.4 1673.5,1303.8 1677.8,1302.4 1682.0,1301.3 1686.2,1300.3 1690.4,1299.4 1694.6,1298.9 1698.8,1298.8 1703.0,1298.9 1707.2,1299.1 1711.5,1299.5 1715.7,1301.0 1719.9,1302.8 1724.1,1304.2 1728.3,1305.5 1732.5,1306.7 1736.7,1308.0 1741.0,1309.3 1745.2,1310.8 1749.4,1312.3 1753.6,1313.7 1757.8,1315.0 1762.0,1316.1 1766.2,1317.2 1770.5,1283.0" fill="none" stroke="rgb(0,127,0)" stroke-opacity="0.7" stroke-width="5.8" stroke-linejoin="round" stroke-linecap="round"/>
</svg>
<text class="pl" x="1456.1" y="1075.8">68</text>
<text class="nl" x="1880.3" y="1069.6" text-anchor="end">N=6</text>
<text class="nl" x="1880.3" y="1097.8" text-anchor="end">effN=14.3</text>
<line x1="165.5" y1="164.00" x2="165.5" y2="1336.00" stroke="#000" stroke-width="3.0"/>
<line x1="594.5" y1="164.00" x2="594.5" y2="1336.00" stroke="#000" stroke-width="3.0"/>
<line x1="1023.5" y1="164.00" x2="1023.5" y2="1336.00" stroke="#000" stroke-width="3.0"/>
<line x1="1452.5" y1="164.00" x2="1452.5" y2="1336.00" stroke="#000" stroke-width="3.0"/>
<line x1="1881.5" y1="164.00" x2="1881.5" y2="1336.00" stroke="#000" stroke-width="3.0"/>
<line x1="164.00" y1="165.5" x2="1883.00" y2="165.5" stroke="#000" stroke-width="3.0"/>
<line x1="164.00" y1="457.5" x2="1883.00" y2="457.5" stroke="#000" stroke-width="3.0"/>
<line x1="164.00" y1="749.5" x2="1883.00" y2="749.5" stroke="#000" stroke-width="3.0"/>
<line x1="164.00" y1="1042.5" x2="1883.00" y2="1042.5" stroke="#000" stroke-width="3.0"/>
<line x1="164.00" y1="1334.5" x2="1883.00" y2="1334.5" stroke="#000" stroke-width="3.0"/>
<line x1="148" y1="446.5" x2="165.5" y2="446.5" stroke="#000" stroke-width="3.0"/>
<text class="tk" x="133" y="457.9" text-anchor="end">0.0</text>
<line x1="148" y1="387.5" x2="165.5" y2="387.5" stroke="#000" stroke-width="3.0"/>
<text class="tk" x="133" y="398.9" text-anchor="end">0.1</text>
<line x1="148" y1="328.5" x2="165.5" y2="328.5" stroke="#000" stroke-width="3.0"/>
<text class="tk" x="133" y="339.9" text-anchor="end">0.2</text>
<line x1="148" y1="269.5" x2="165.5" y2="269.5" stroke="#000" stroke-width="3.0"/>
<text class="tk" x="133" y="280.9" text-anchor="end">0.3</text>
<line x1="148" y1="211.5" x2="165.5" y2="211.5" stroke="#000" stroke-width="3.0"/>
<text class="tk" x="133" y="222.9" text-anchor="end">0.4</text>
<line x1="148" y1="739.5" x2="165.5" y2="739.5" stroke="#000" stroke-width="3.0"/>
<text class="tk" x="133" y="750.9" text-anchor="end">0.0</text>
<line x1="148" y1="680.5" x2="165.5" y2="680.5" stroke="#000" stroke-width="3.0"/>
<text class="tk" x="133" y="691.9" text-anchor="end">0.1</text>
<line x1="148" y1="621.5" x2="165.5" y2="621.5" stroke="#000" stroke-width="3.0"/>
<text class="tk" x="133" y="632.9" text-anchor="end">0.2</text>
<line x1="148" y1="562.5" x2="165.5" y2="562.5" stroke="#000" stroke-width="3.0"/>
<text class="tk" x="133" y="573.9" text-anchor="end">0.3</text>
<line x1="148" y1="504.5" x2="165.5" y2="504.5" stroke="#000" stroke-width="3.0"/>
<text class="tk" x="133" y="515.9" text-anchor="end">0.4</text>
<line x1="148" y1="1031.5" x2="165.5" y2="1031.5" stroke="#000" stroke-width="3.0"/>
<text class="tk" x="133" y="1042.9" text-anchor="end">0.0</text>
<line x1="148" y1="972.5" x2="165.5" y2="972.5" stroke="#000" stroke-width="3.0"/>
<text class="tk" x="133" y="983.9" text-anchor="end">0.1</text>
<line x1="148" y1="913.5" x2="165.5" y2="913.5" stroke="#000" stroke-width="3.0"/>
<text class="tk" x="133" y="924.9" text-anchor="end">0.2</text>
<line x1="148" y1="854.5" x2="165.5" y2="854.5" stroke="#000" stroke-width="3.0"/>
<text class="tk" x="133" y="865.9" text-anchor="end">0.3</text>
<line x1="148" y1="796.5" x2="165.5" y2="796.5" stroke="#000" stroke-width="3.0"/>
<text class="tk" x="133" y="807.9" text-anchor="end">0.4</text>
<line x1="148" y1="1323.5" x2="165.5" y2="1323.5" stroke="#000" stroke-width="3.0"/>
<text class="tk" x="133" y="1334.9" text-anchor="end">0.0</text>
<line x1="148" y1="1264.5" x2="165.5" y2="1264.5" stroke="#000" stroke-width="3.0"/>
<text class="tk" x="133" y="1275.9" text-anchor="end">0.1</text>
<line x1="148" y1="1205.5" x2="165.5" y2="1205.5" stroke="#000" stroke-width="3.0"/>
<text class="tk" x="133" y="1216.9" text-anchor="end">0.2</text>
<line x1="148" y1="1146.5" x2="165.5" y2="1146.5" stroke="#000" stroke-width="3.0"/>
<text class="tk" x="133" y="1157.9" text-anchor="end">0.3</text>
<line x1="148" y1="1088.5" x2="165.5" y2="1088.5" stroke="#000" stroke-width="3.0"/>
<text class="tk" x="133" y="1099.9" text-anchor="end">0.4</text>
<line x1="247.5" y1="1334.5" x2="247.5" y2="1352.0" stroke="#000" stroke-width="3.0"/>
<text class="tk" x="247.5" y="1392.8" text-anchor="middle">50</text>
<line x1="352.8" y1="1334.5" x2="352.8" y2="1352.0" stroke="#000" stroke-width="3.0"/>
<text class="tk" x="352.8" y="1392.8" text-anchor="middle">100</text>
<line x1="458.2" y1="1334.5" x2="458.2" y2="1352.0" stroke="#000" stroke-width="3.0"/>
<text class="tk" x="458.2" y="1392.8" text-anchor="middle">150</text>
<line x1="563.5" y1="1334.5" x2="563.5" y2="1352.0" stroke="#000" stroke-width="3.0"/>
<text class="tk" x="563.5" y="1392.8" text-anchor="middle">200</text>
<line x1="676.5" y1="1334.5" x2="676.5" y2="1352.0" stroke="#000" stroke-width="3.0"/>
<text class="tk" x="676.5" y="1392.8" text-anchor="middle">50</text>
<line x1="781.8" y1="1334.5" x2="781.8" y2="1352.0" stroke="#000" stroke-width="3.0"/>
<text class="tk" x="781.8" y="1392.8" text-anchor="middle">100</text>
<line x1="887.2" y1="1334.5" x2="887.2" y2="1352.0" stroke="#000" stroke-width="3.0"/>
<text class="tk" x="887.2" y="1392.8" text-anchor="middle">150</text>
<line x1="992.5" y1="1334.5" x2="992.5" y2="1352.0" stroke="#000" stroke-width="3.0"/>
<text class="tk" x="992.5" y="1392.8" text-anchor="middle">200</text>
<line x1="1105.5" y1="1334.5" x2="1105.5" y2="1352.0" stroke="#000" stroke-width="3.0"/>
<text class="tk" x="1105.5" y="1392.8" text-anchor="middle">50</text>
<line x1="1210.8" y1="1334.5" x2="1210.8" y2="1352.0" stroke="#000" stroke-width="3.0"/>
<text class="tk" x="1210.8" y="1392.8" text-anchor="middle">100</text>
<line x1="1316.2" y1="1334.5" x2="1316.2" y2="1352.0" stroke="#000" stroke-width="3.0"/>
<text class="tk" x="1316.2" y="1392.8" text-anchor="middle">150</text>
<line x1="1421.5" y1="1334.5" x2="1421.5" y2="1352.0" stroke="#000" stroke-width="3.0"/>
<text class="tk" x="1421.5" y="1392.8" text-anchor="middle">200</text>
<line x1="1534.5" y1="1334.5" x2="1534.5" y2="1352.0" stroke="#000" stroke-width="3.0"/>
<text class="tk" x="1534.5" y="1392.8" text-anchor="middle">50</text>
<line x1="1639.8" y1="1334.5" x2="1639.8" y2="1352.0" stroke="#000" stroke-width="3.0"/>
<text class="tk" x="1639.8" y="1392.8" text-anchor="middle">100</text>
<line x1="1745.2" y1="1334.5" x2="1745.2" y2="1352.0" stroke="#000" stroke-width="3.0"/>
<text class="tk" x="1745.2" y="1392.8" text-anchor="middle">150</text>
<line x1="1850.5" y1="1334.5" x2="1850.5" y2="1352.0" stroke="#000" stroke-width="3.0"/>
<text class="tk" x="1850.5" y="1392.8" text-anchor="middle">200</text>
</svg></body></html>
